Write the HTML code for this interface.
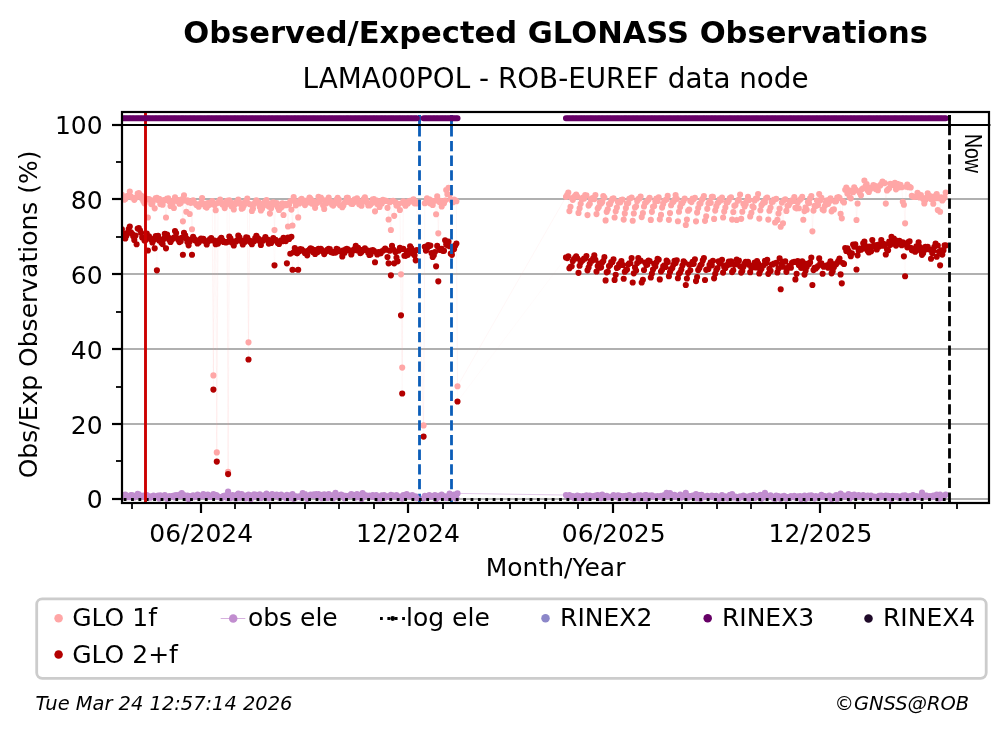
<!DOCTYPE html>
<html lang="en"><head><meta charset="utf-8"><title>Observed/Expected GLONASS Observations</title>
<style>html,body{margin:0;padding:0;background:#fff}svg{display:block;will-change:transform}text{font-family:"DejaVu Sans","Liberation Sans",sans-serif;fill:#000}</style></head><body>
<svg width="1008" height="734" viewBox="0 0 1008 734">
<rect width="1008" height="734" fill="#fff"/>
<text x="555.6" y="42.6" font-size="30.56" font-weight="bold" text-anchor="middle">Observed/Expected GLONASS Observations</text>
<text x="555.6" y="87.6" font-size="27.8" text-anchor="middle">LAMA00POL - ROB-EUREF data node</text>
<clipPath id="c"><rect x="122" y="112" width="867" height="391"/></clipPath>
<g clip-path="url(#c)">
<line x1="122" x2="989" y1="499" y2="499" stroke="#b0b0b0" stroke-width="2.2"/>
<line x1="122" x2="989" y1="424" y2="424" stroke="#b0b0b0" stroke-width="2.2"/>
<line x1="122" x2="989" y1="349" y2="349" stroke="#b0b0b0" stroke-width="2.2"/>
<line x1="122" x2="989" y1="274" y2="274" stroke="#b0b0b0" stroke-width="2.2"/>
<line x1="122" x2="989" y1="199" y2="199" stroke="#b0b0b0" stroke-width="2.2"/>
<line x1="122" x2="989" y1="125" y2="125" stroke="#b0b0b0" stroke-width="2.2"/>
<polyline points="121.9,194.7 123,196.7 124.2,199.7 125.3,199.1 126.4,197.1 127.5,195.9 128.7,196.5 129.8,191.6 130.9,196.6 132.1,197.6 133.2,198.1 134.3,199.8 135.5,198.1 136.6,197.3 137.7,193.6 138.8,193.1 140,194.8 141.1,195.6 142.2,199.1 143.4,201.2 144.5,203.3 145.6,200 146.8,198.8 147.9,217.5 149,199 150.1,199.9 151.3,204.1 152.4,203 153.5,200.3 154.7,208.3 155.8,198 156.9,197.7 158.1,200.1 159.2,198.8 160.3,204.1 161.4,202 162.6,204.7 163.7,200.1 164.8,200.3 166,217.5 167.1,198.5 168.2,198.4 169.4,201.5 170.5,205.9 171.6,201 172.7,203.1 173.9,208 175,197.4 176.1,200.6 177.3,199.8 178.4,201.8 179.5,203.7 180.7,203.1 181.8,199.2 182.9,221.3 184,195.2 185.2,200.6 186.3,211.7 187.4,200.4 188.6,202.2 189.7,214 190.8,202.8 192,229.2 193.1,200.3 194.2,202.6 195.3,203.5 196.5,205.1 197.6,205.4 198.7,206.7 199.9,204.3 201,202.8 202.1,198.1 203.3,203.9 204.4,203.7 205.5,206.7 206.7,207.6 207.8,203 208.9,205 210,202.7 211.2,204.1 212.3,201.1 213.4,375.4 214.6,205 215.7,210.2 216.8,452.4 218,202.8 219.1,201 220.2,199.6 221.3,202.2 222.5,204.5 223.6,205.1 224.7,208.1 225.9,204.8 227,200.7 228.1,471.9 229.3,200.4 230.4,202.1 231.5,206.3 232.6,205.3 233.8,209.4 234.9,204.5 236,202.3 237.2,202.4 238.3,199.5 239.4,203.6 240.6,203 241.7,208.7 242.8,208.1 243.9,205.6 245.1,202.3 246.2,200.9 247.3,198.6 248.5,342.3 249.6,204.1 250.7,204.3 251.9,211 253,208.6 254.1,203.9 255.2,202.4 256.4,200.4 257.5,202.5 258.6,202.3 259.8,207 260.9,210.5 262,208.7 263.2,205.9 264.3,202.6 265.4,201.3 266.5,200 267.7,203.6 268.8,206.4 269.9,213.6 271.1,208.3 272.2,202.9 273.3,202.4 274.5,230.1 275.6,204.4 276.7,203.1 277.8,207.3 279,210 280.1,207.7 281.2,207.4 282.4,203.2 283.5,215 284.6,205.3 285.8,203.9 286.9,205.1 288,226.5 289.1,204.4 290.3,201.3 291.4,209.6 292.5,225.5 293.7,197.1 294.8,201.2 295.9,205.3 297.1,202.2 298.2,217.4 299.3,203.5 300.4,199.8 301.6,198.7 302.7,202 303.8,200.5 305,205.1 306.1,200.9 307.2,202.6 308.4,201 309.5,197.5 310.6,198.8 311.7,203.6 312.9,201.5 314,201.5 315.1,207.8 316.3,203.2 317.4,202.7 318.5,196.8 319.7,200.7 320.8,197.5 321.9,199 323.1,205.2 324.2,209 325.3,203.8 326.4,203.2 327.6,199.6 328.7,197.6 329.8,200.9 331,201.9 332.1,204.8 333.2,205.6 334.4,203.7 335.5,202.2 336.6,199.6 337.7,197.9 338.9,199.6 340,205.2 341.1,205.3 342.3,207.2 343.4,205.5 344.5,202.7 345.7,201.6 346.8,197.8 347.9,197.8 349,202.1 350.2,200.9 351.3,203.7 352.4,204 353.6,202.5 354.7,199.3 355.8,199 357,198.2 358.1,201.9 359.2,204.3 360.3,203.7 361.5,205.7 362.6,201.4 363.7,199 364.9,197.2 366,200 367.1,202.4 368.3,205.5 369.4,205.4 370.5,204.4 371.6,203.2 372.8,199.4 373.9,199 375,211.3 376.2,200.2 377.3,204 378.4,204.1 379.6,206.9 380.7,201 381.8,203.4 382.9,199.7 384.1,200.3 385.2,200.8 386.3,200.9 387.5,207.8 388.6,219.5 389.7,202.2 390.9,230 392,201 393.1,200.7 394.2,215.8 395.4,202.4 396.5,205.6 397.6,204 398.8,203.9 399.9,210 401,274.3 402.2,367.6 403.3,201.2 404.4,203.8 405.5,205.7 406.7,202.3 407.8,203.4 408.9,201 410.1,200.7 411.2,201.3 412.3,201 413.5,199.4 414.6,203.3 415.7,201.6 416.8,203.4 423.6,425.4 424.8,203.2 425.9,202.4 427,198.2 428.2,200.2 429.3,199.2 430.4,203.5 431.5,200.6 432.7,204.9 433.8,201.1 434.9,200.8 436.1,214.2 437.2,196.2 438.3,233.3 439.5,202.1 440.6,200.9 441.7,206.4 442.8,203.7 444,203.2 445.1,200.6 446.2,190.1 447.4,194.2 448.5,187.8 449.6,194.8 450.8,199.6 451.9,200.7 453,202.2 454.1,199.5 455.3,200.3 456.4,201.2 457.5,386.2 566,196.8 567.2,194.7 568.3,192.5 569.4,211.1 570.5,206.8 571.7,198.1 572.8,199.8 573.9,197 575.1,195.9 576.2,194.5 577.3,196.5 578.5,212.9 579.6,208.3 580.7,203.7 581.8,199.2 583,197.6 584.1,198.6 585.2,195.1 586.4,195.3 587.5,215.1 588.6,205.6 589.8,203.8 590.9,199.3 592,198.2 593.1,197.8 594.3,199.1 595.4,195.1 596.5,214.1 597.7,208.6 598.8,207 599.9,202.2 601.1,203.6 602.2,201.9 603.3,196.1 604.4,197.5 605.6,220.4 606.7,211.8 607.8,209.2 609,204 610.1,204 611.2,200.9 612.4,198.8 613.5,198.4 614.6,217.5 615.7,211.3 616.9,207.6 618,202.1 619.1,202.1 620.3,202.3 621.4,199.7 622.5,199.6 623.7,219.6 624.8,213.4 625.9,208.1 627,203.7 628.2,203 629.3,198.8 630.4,198.2 631.6,197.5 632.7,220.7 633.8,213.5 635,207.4 636.1,206.3 637.2,201.1 638.3,199.1 639.5,198.4 640.6,196.5 641.7,217.1 642.9,213.1 644,206.5 645.1,203 646.3,202 647.4,200.8 648.5,199.6 649.6,197.8 650.8,219.9 651.9,211.8 653,206.7 654.2,206.1 655.3,201.3 656.4,198.5 657.6,201 658.7,197.4 659.8,219.3 661,214.9 662.1,207.6 663.2,203.9 664.3,201 665.5,200.1 666.6,199.3 667.7,195.9 668.9,219.8 670,213.1 671.1,205.2 672.3,202.6 673.4,201.7 674.5,199.9 675.6,195.1 676.8,198.8 677.9,221.2 679,211.7 680.2,206.9 681.3,203.3 682.4,203.1 683.6,200.7 684.7,198.5 685.8,225 686.9,219.6 688.1,210.7 689.2,209.6 690.3,201.1 691.5,202.1 692.6,198.6 693.7,199.1 694.9,197.7 696,221.3 697.1,212.6 698.2,208.1 699.4,203.7 700.5,203.4 701.6,200.1 702.8,198.6 703.9,196.1 705,220.8 706.2,216.3 707.3,208.8 708.4,203.6 709.5,201.3 710.7,202.8 711.8,196.9 712.9,196.7 714.1,218.9 715.2,210.6 716.3,206.4 717.5,203.3 718.6,202.2 719.7,199.4 720.8,200.3 722,197.6 723.1,217.5 724.2,211.6 725.4,207.6 726.5,202.6 727.6,202.2 728.8,200.3 729.9,198.1 731,197.3 732.1,219.6 733.3,212 734.4,205.8 735.5,205 736.7,220 737.8,200.7 738.9,199.6 740.1,194.6 741.2,218.8 742.3,211.7 743.4,203.8 744.6,206.4 745.7,204.3 746.8,200.8 748,196.7 749.1,200 750.2,216.4 751.4,212.8 752.5,206.3 753.6,207.4 754.7,200.4 755.9,198.6 757,198.4 758.1,194.1 759.3,218.6 760.4,210.2 761.5,205.3 762.7,203.6 763.8,201.5 764.9,202.3 766.1,198.2 767.2,197.6 768.3,219.6 769.4,210.7 770.6,207.5 771.7,202.1 772.8,201.7 774,199.5 775.1,222.5 776.2,198.8 777.4,219.9 778.5,213.5 779.6,208.5 780.7,226.7 781.9,202.6 783,223.3 784.1,200.1 785.3,199.3 786.4,210.9 787.5,205.8 788.7,205.3 789.8,203.2 790.9,201.4 792,200.4 793.2,201 794.3,197.1 795.4,207.8 796.6,208.3 797.7,202.5 798.8,208.2 800,199.8 801.1,198.5 802.2,196.9 803.3,219.7 804.5,211.1 805.6,207.4 806.7,209.7 807.9,202.1 809,202.9 810.1,198.3 811.3,196 812.4,231.3 813.5,210.6 814.6,205.8 815.8,206.1 816.9,200.5 818,205.1 819.2,194.1 820.3,200.3 821.4,197.8 822.6,209.6 823.7,210.3 824.8,206 825.9,202.6 827.1,200.3 828.2,203.8 829.3,201.6 830.5,198.3 831.6,211.3 832.7,209.7 833.9,209.4 835,201.5 836.1,201.3 837.2,197.6 838.4,197.1 839.5,197.8 840.6,213.8 841.8,218.3 842.9,201.2 844,202.5 845.2,189.8 846.3,187.5 847.4,193.6 848.5,190.1 849.7,197.2 850.8,198.3 851.9,190.8 853.1,192.2 854.2,187.2 855.3,189.4 856.5,220 857.6,203.5 858.7,191.3 859.8,193 861,195.3 862.1,189.1 863.2,188.3 864.4,180.5 865.5,186.2 866.6,184 867.8,190.4 868.9,192 870,189.6 871.1,187.6 872.3,187.6 873.4,185 874.5,185.5 875.7,189.1 876.8,187.6 877.9,190.2 879.1,186.1 880.2,185.4 881.3,183.7 882.5,181.6 883.6,183.1 884.7,183.1 885.8,203.6 887,190.5 888.1,189.2 889.2,188.2 890.4,183.7 891.5,184.3 892.6,184.8 893.8,184.4 894.9,182.7 896,189.3 897.1,183.8 898.3,187.4 899.4,184.5 900.5,184.9 901.7,187.2 902.8,201.7 903.9,204.7 905.1,223.3 906.2,186.7 907.3,184.6 908.4,187.2 909.6,186.9 910.7,187.5 911.8,195.7 913,196.6 914.1,197 915.2,196.7 916.4,196.7 917.5,192.7 918.6,194.2 919.7,197.5 920.9,195.1 922,197.7 923.1,199.1 924.3,203.5 925.4,199.9 926.5,197.5 927.7,193.2 928.8,195.1 929.9,196 931,198.9 932.2,198.5 933.3,203.7 934.4,196.3 935.6,198.2 936.7,194.1 937.8,210 939,198.2 940.1,211.7 941.2,197.3 942.3,200.5 943.5,198.8 944.6,197.3 945.7,192.6" fill="none" stroke="#ffa6a6" stroke-width="0.3" opacity="0.32"/>
<polyline points="121.9,229.4 123,233.5 124.2,236.4 125.3,238.5 126.4,235.8 127.5,232.9 128.7,229 129.8,226.5 130.9,232.4 132.1,233.7 133.2,236.2 134.3,239.9 135.5,235.6 136.6,244.2 137.7,228.5 138.8,228.1 140,230.2 141.1,232.8 142.2,237.4 143.4,237.5 144.5,240.5 145.6,239.9 146.8,233.5 147.9,250.5 149,236.2 150.1,238.1 151.3,239.7 152.4,242.4 153.5,240.3 154.7,248.3 155.8,236 156.9,270.3 158.1,235.9 159.2,240.6 160.3,240.5 161.4,242.8 162.6,244.1 163.7,238.9 164.8,233.9 166,248.3 167.1,234.6 168.2,237.2 169.4,240.1 170.5,241.9 171.6,240.1 172.7,238.8 173.9,237.5 175,231 176.1,233.1 177.3,238.2 178.4,239.9 179.5,242.1 180.7,241.3 181.8,237.9 182.9,254.7 184,232.9 185.2,235.3 186.3,238.4 187.4,242.1 188.6,245.3 189.7,241.5 190.8,239.6 192,254.7 193.1,236.8 194.2,238.7 195.3,240.6 196.5,241.6 197.6,243.4 198.7,242.6 199.9,239.6 201,238.6 202.1,240.3 203.3,238.7 204.4,240.3 205.5,241.5 206.7,244.4 207.8,241.8 208.9,240.7 210,239.1 211.2,238 212.3,240.3 213.4,389.6 214.6,240.5 215.7,244.2 216.8,461.6 218,243.6 219.1,240.6 220.2,239.1 221.3,237.7 222.5,240.4 223.6,242 224.7,242.1 225.9,242.5 227,241.9 228.1,474.1 229.3,236.6 230.4,238.3 231.5,242.3 232.6,243.3 233.8,245.4 234.9,241.3 236,241.6 237.2,240.3 238.3,235.6 239.4,237.3 240.6,240.8 241.7,240.6 242.8,244.5 243.9,241.7 245.1,241.7 246.2,237.3 247.3,237.6 248.5,359.5 249.6,240.5 250.7,242.5 251.9,244.2 253,241.3 254.1,241.3 255.2,238.1 256.4,235.9 257.5,237.8 258.6,238.8 259.8,241.2 260.9,245 262,241 263.2,240.6 264.3,239 265.4,237.1 266.5,239 267.7,239.5 268.8,243.6 269.9,242.6 271.1,242.9 272.2,239.7 273.3,238.1 274.5,265.3 275.6,239.7 276.7,241.2 277.8,243.1 279,243.9 280.1,241.8 281.2,240.2 282.4,241.2 283.5,237.7 284.6,240 285.8,241.1 286.9,263.3 288,237.5 289.1,239 290.3,253.7 291.4,236.7 292.5,269.7 293.7,252.2 294.8,248.1 295.9,251.3 297.1,253.3 298.2,269.7 299.3,251.2 300.4,249 301.6,249.3 302.7,250.5 303.8,251 305,253.2 306.1,251.7 307.2,255.3 308.4,250.5 309.5,249.5 310.6,248.4 311.7,248.8 312.9,251.9 314,249.9 315.1,254 316.3,251.9 317.4,252.3 318.5,248.8 319.7,250.7 320.8,248.8 321.9,250.1 323.1,251.8 324.2,254.1 325.3,251.5 326.4,251.2 327.6,249.6 328.7,248.8 329.8,249.1 331,252.1 332.1,252.1 333.2,252.9 334.4,251.9 335.5,252.6 336.6,248.7 337.7,249.3 338.9,251.2 340,251 341.1,251.2 342.3,256.4 343.4,250.2 344.5,252.8 345.7,249.4 346.8,248.8 347.9,249.2 349,250.3 350.2,250.9 351.3,254.5 352.4,251.2 353.6,249.8 354.7,248.9 355.8,245.9 357,250.3 358.1,247.9 359.2,251 360.3,253.1 361.5,251.9 362.6,249.7 363.7,250 364.9,248.4 366,250 367.1,250.2 368.3,252.9 369.4,254.9 370.5,254.6 371.6,250.4 372.8,250.1 373.9,250.8 375,262.2 376.2,252.2 377.3,254.4 378.4,252 379.6,252.2 380.7,253.3 381.8,251.4 382.9,250.8 384.1,249.7 385.2,248.6 386.3,249.7 387.5,257.1 388.6,263.3 389.7,250.7 390.9,275.3 392,245.9 393.1,249.2 394.2,263.3 395.4,252.1 396.5,257.6 397.6,261.3 398.8,250.6 399.9,247.7 401,315.3 402.2,393.5 403.3,248.9 404.4,255.7 405.5,255.8 406.7,252.3 407.8,254.8 408.9,250.5 410.1,246.2 411.2,248 412.3,251.9 413.5,254.1 414.6,255.2 415.7,260.3 416.8,250 423.6,436.6 424.8,246.8 425.9,250.6 427,248.2 428.2,245.1 429.3,246.1 430.4,245.5 431.5,253.1 432.7,256.9 433.8,255.3 434.9,252.1 436.1,266.3 437.2,245.9 438.3,281.3 439.5,249.8 440.6,249.8 441.7,248.7 442.8,250.8 444,250.8 445.1,240.3 446.2,244.2 447.4,245.3 448.5,241.6 449.6,246.2 450.8,253.6 451.9,254.8 453,249.8 454.1,249 455.3,245.4 456.4,243.6 457.5,401.5 566,257.4 567.2,258.1 568.3,256.3 569.4,268.2 570.5,266.7 571.7,266.3 572.8,261.1 573.9,259.2 575.1,257.9 576.2,256.4 577.3,258.4 578.5,272.8 579.6,265.7 580.7,262.5 581.8,260.9 583,259.9 584.1,258.5 585.2,258.4 586.4,256 587.5,270.3 588.6,267.5 589.8,263.7 590.9,260.9 592,260.8 593.1,258.5 594.3,255.4 595.4,259.7 596.5,271.5 597.7,266.1 598.8,263.8 599.9,267.7 601.1,267.2 602.2,262.4 603.3,261 604.4,257 605.6,280.4 606.7,272.3 607.8,271.5 609,266.1 610.1,265 611.2,262.1 612.4,262 613.5,259.2 614.6,279.9 615.7,274.7 616.9,267.9 618,267.3 619.1,264.2 620.3,263 621.4,261.1 622.5,264.9 623.7,278.7 624.8,271.7 625.9,270.4 627,269.5 628.2,264.6 629.3,263.3 630.4,263 631.6,258.1 632.7,282.5 633.8,273.3 635,267.4 636.1,270.5 637.2,263.1 638.3,258.1 639.5,261.3 640.6,260.5 641.7,282.5 642.9,279.8 644,270 645.1,262.6 646.3,265.1 647.4,264.6 648.5,260.6 649.6,261.1 650.8,277.5 651.9,273.6 653,269.6 654.2,263.9 655.3,266.4 656.4,262.3 657.6,258.8 658.7,259.5 659.8,279.4 661,271.5 662.1,269.8 663.2,266.4 664.3,265.3 665.5,267 666.6,260.6 667.7,261.9 668.9,276.2 670,272 671.1,269.2 672.3,267.9 673.4,264.8 674.5,260.9 675.6,263.1 676.8,260.3 677.9,278.2 679,273.8 680.2,272.2 681.3,269.5 682.4,265.6 683.6,261.4 684.7,262.6 685.8,285 686.9,278.5 688.1,272.8 689.2,264.6 690.3,270.3 691.5,263.8 692.6,261.7 693.7,263.8 694.9,259.3 696,281.1 697.1,277 698.2,270.1 699.4,267.9 700.5,265.3 701.6,264.2 702.8,260.4 703.9,258 705,280 706.2,269.8 707.3,269.3 708.4,269.1 709.5,264.7 710.7,262.4 711.8,265.3 712.9,260.8 714.1,278.3 715.2,273.7 716.3,270 717.5,268.1 718.6,261.4 719.7,263.3 720.8,263.5 722,259.8 723.1,272.6 724.2,267.1 725.4,268 726.5,265 727.6,264.9 728.8,261.6 729.9,264.3 731,261.2 732.1,272.1 733.3,270.3 734.4,264.5 735.5,264.3 736.7,259.5 737.8,260.5 738.9,260.5 740.1,266.3 741.2,272.6 742.3,270.9 743.4,266.8 744.6,263.6 745.7,261.7 746.8,262.5 748,261.8 749.1,264.7 750.2,272.2 751.4,268 752.5,265.7 753.6,265.7 754.7,262.5 755.9,267.4 757,261.1 758.1,263.4 759.3,273.5 760.4,270.5 761.5,268.4 762.7,266.1 763.8,265.1 764.9,260.7 766.1,263 767.2,259.7 768.3,273.8 769.4,268.7 770.6,270.9 771.7,264.5 772.8,264.4 774,263.6 775.1,263.4 776.2,262.7 777.4,272.4 778.5,268.4 779.6,258.3 780.7,289.2 781.9,263.7 783,266.7 784.1,261.6 785.3,261.4 786.4,271.8 787.5,268.3 788.7,267 789.8,265.9 790.9,267.7 792,262.8 793.2,262 794.3,261.9 795.4,279.4 796.6,273.8 797.7,261 798.8,264.9 800,264.5 801.1,267.8 802.2,261.2 803.3,262.9 804.5,274.6 805.6,270.8 806.7,267 807.9,263.5 809,263.9 810.1,262.4 811.3,257.5 812.4,285 813.5,270.1 814.6,267.8 815.8,268.6 816.9,267.2 818,266.1 819.2,258.4 820.3,263.6 821.4,263.3 822.6,273.7 823.7,266.7 824.8,266.5 825.9,265.9 827.1,265.4 828.2,267.7 829.3,263.7 830.5,261.4 831.6,273.3 832.7,271.2 833.9,267.3 835,264 836.1,264.2 837.2,262.7 838.4,260.7 839.5,258.6 840.6,274.4 841.8,283.3 842.9,263 844,263.9 845.2,248 846.3,250.9 847.4,248.3 848.5,250.7 849.7,253.4 850.8,256.2 851.9,253.4 853.1,244.5 854.2,246.7 855.3,244.4 856.5,269.5 857.6,255.3 858.7,250.6 859.8,248.5 861,249.7 862.1,248.7 863.2,243.3 864.4,241.6 865.5,248.6 866.6,246.3 867.8,250.9 868.9,252.5 870,246.6 871.1,251.3 872.3,240.1 873.4,245.9 874.5,245 875.7,245.7 876.8,249.4 877.9,244.7 879.1,246.5 880.2,244.3 881.3,240.1 882.5,245.7 883.6,243.7 884.7,244.7 885.8,254.5 887,249.2 888.1,250.3 889.2,241.5 890.4,244.8 891.5,236.7 892.6,240.7 893.8,238.6 894.9,241.5 896,245.6 897.1,240.9 898.3,241.6 899.4,240.9 900.5,242.6 901.7,245.2 902.8,242.2 903.9,256.3 905.1,276.2 906.2,244 907.3,247.3 908.4,242 909.6,241.3 910.7,247.7 911.8,249.9 913,250.4 914.1,250.7 915.2,251.7 916.4,246.4 917.5,247.1 918.6,242.3 919.7,246.9 920.9,250.9 922,254.8 923.1,253.3 924.3,250.2 925.4,246.8 926.5,248.4 927.7,246.8 928.8,249.2 929.9,249.6 931,258.7 932.2,253.1 933.3,251 934.4,246.7 935.6,243.6 936.7,256.7 937.8,245.5 939,251.7 940.1,265.3 941.2,250.4 942.3,254.6 943.5,250.3 944.6,245.3 945.7,245.4" fill="none" stroke="#ffa6a6" stroke-width="0.3" opacity="0.15"/>
<path d="M121.9 194.7h0M123 196.7h0M124.2 199.7h0M125.3 199.1h0M126.4 197.1h0M127.5 195.9h0M128.7 196.5h0M129.8 191.6h0M130.9 196.6h0M132.1 197.6h0M133.2 198.1h0M134.3 199.8h0M135.5 198.1h0M136.6 197.3h0M137.7 193.6h0M138.8 193.1h0M140 194.8h0M141.1 195.6h0M142.2 199.1h0M143.4 201.2h0M144.5 203.3h0M145.6 200h0M146.8 198.8h0M147.9 217.5h0M149 199h0M150.1 199.9h0M151.3 204.1h0M152.4 203h0M153.5 200.3h0M154.7 208.3h0M155.8 198h0M156.9 197.7h0M158.1 200.1h0M159.2 198.8h0M160.3 204.1h0M161.4 202h0M162.6 204.7h0M163.7 200.1h0M164.8 200.3h0M166 217.5h0M167.1 198.5h0M168.2 198.4h0M169.4 201.5h0M170.5 205.9h0M171.6 201h0M172.7 203.1h0M173.9 208h0M175 197.4h0M176.1 200.6h0M177.3 199.8h0M178.4 201.8h0M179.5 203.7h0M180.7 203.1h0M181.8 199.2h0M182.9 221.3h0M184 195.2h0M185.2 200.6h0M186.3 211.7h0M187.4 200.4h0M188.6 202.2h0M189.7 214h0M190.8 202.8h0M192 229.2h0M193.1 200.3h0M194.2 202.6h0M195.3 203.5h0M196.5 205.1h0M197.6 205.4h0M198.7 206.7h0M199.9 204.3h0M201 202.8h0M202.1 198.1h0M203.3 203.9h0M204.4 203.7h0M205.5 206.7h0M206.7 207.6h0M207.8 203h0M208.9 205h0M210 202.7h0M211.2 204.1h0M212.3 201.1h0M213.4 375.4h0M214.6 205h0M215.7 210.2h0M216.8 452.4h0M218 202.8h0M219.1 201h0M220.2 199.6h0M221.3 202.2h0M222.5 204.5h0M223.6 205.1h0M224.7 208.1h0M225.9 204.8h0M227 200.7h0M228.1 471.9h0M229.3 200.4h0M230.4 202.1h0M231.5 206.3h0M232.6 205.3h0M233.8 209.4h0M234.9 204.5h0M236 202.3h0M237.2 202.4h0M238.3 199.5h0M239.4 203.6h0M240.6 203h0M241.7 208.7h0M242.8 208.1h0M243.9 205.6h0M245.1 202.3h0M246.2 200.9h0M247.3 198.6h0M248.5 342.3h0M249.6 204.1h0M250.7 204.3h0M251.9 211h0M253 208.6h0M254.1 203.9h0M255.2 202.4h0M256.4 200.4h0M257.5 202.5h0M258.6 202.3h0M259.8 207h0M260.9 210.5h0M262 208.7h0M263.2 205.9h0M264.3 202.6h0M265.4 201.3h0M266.5 200h0M267.7 203.6h0M268.8 206.4h0M269.9 213.6h0M271.1 208.3h0M272.2 202.9h0M273.3 202.4h0M274.5 230.1h0M275.6 204.4h0M276.7 203.1h0M277.8 207.3h0M279 210h0M280.1 207.7h0M281.2 207.4h0M282.4 203.2h0M283.5 215h0M284.6 205.3h0M285.8 203.9h0M286.9 205.1h0M288 226.5h0M289.1 204.4h0M290.3 201.3h0M291.4 209.6h0M292.5 225.5h0M293.7 197.1h0M294.8 201.2h0M295.9 205.3h0M297.1 202.2h0M298.2 217.4h0M299.3 203.5h0M300.4 199.8h0M301.6 198.7h0M302.7 202h0M303.8 200.5h0M305 205.1h0M306.1 200.9h0M307.2 202.6h0M308.4 201h0M309.5 197.5h0M310.6 198.8h0M311.7 203.6h0M312.9 201.5h0M314 201.5h0M315.1 207.8h0M316.3 203.2h0M317.4 202.7h0M318.5 196.8h0M319.7 200.7h0M320.8 197.5h0M321.9 199h0M323.1 205.2h0M324.2 209h0M325.3 203.8h0M326.4 203.2h0M327.6 199.6h0M328.7 197.6h0M329.8 200.9h0M331 201.9h0M332.1 204.8h0M333.2 205.6h0M334.4 203.7h0M335.5 202.2h0M336.6 199.6h0M337.7 197.9h0M338.9 199.6h0M340 205.2h0M341.1 205.3h0M342.3 207.2h0M343.4 205.5h0M344.5 202.7h0M345.7 201.6h0M346.8 197.8h0M347.9 197.8h0M349 202.1h0M350.2 200.9h0M351.3 203.7h0M352.4 204h0M353.6 202.5h0M354.7 199.3h0M355.8 199h0M357 198.2h0M358.1 201.9h0M359.2 204.3h0M360.3 203.7h0M361.5 205.7h0M362.6 201.4h0M363.7 199h0M364.9 197.2h0M366 200h0M367.1 202.4h0M368.3 205.5h0M369.4 205.4h0M370.5 204.4h0M371.6 203.2h0M372.8 199.4h0M373.9 199h0M375 211.3h0M376.2 200.2h0M377.3 204h0M378.4 204.1h0M379.6 206.9h0M380.7 201h0M381.8 203.4h0M382.9 199.7h0M384.1 200.3h0M385.2 200.8h0M386.3 200.9h0M387.5 207.8h0M388.6 219.5h0M389.7 202.2h0M390.9 230h0M392 201h0M393.1 200.7h0M394.2 215.8h0M395.4 202.4h0M396.5 205.6h0M397.6 204h0M398.8 203.9h0M399.9 210h0M401 274.3h0M402.2 367.6h0M403.3 201.2h0M404.4 203.8h0M405.5 205.7h0M406.7 202.3h0M407.8 203.4h0M408.9 201h0M410.1 200.7h0M411.2 201.3h0M412.3 201h0M413.5 199.4h0M414.6 203.3h0M415.7 201.6h0M416.8 203.4h0M423.6 425.4h0M424.8 203.2h0M425.9 202.4h0M427 198.2h0M428.2 200.2h0M429.3 199.2h0M430.4 203.5h0M431.5 200.6h0M432.7 204.9h0M433.8 201.1h0M434.9 200.8h0M436.1 214.2h0M437.2 196.2h0M438.3 233.3h0M439.5 202.1h0M440.6 200.9h0M441.7 206.4h0M442.8 203.7h0M444 203.2h0M445.1 200.6h0M446.2 190.1h0M447.4 194.2h0M448.5 187.8h0M449.6 194.8h0M450.8 199.6h0M451.9 200.7h0M453 202.2h0M454.1 199.5h0M455.3 200.3h0M456.4 201.2h0M457.5 386.2h0M566 196.8h0M567.2 194.7h0M568.3 192.5h0M569.4 211.1h0M570.5 206.8h0M571.7 198.1h0M572.8 199.8h0M573.9 197h0M575.1 195.9h0M576.2 194.5h0M577.3 196.5h0M578.5 212.9h0M579.6 208.3h0M580.7 203.7h0M581.8 199.2h0M583 197.6h0M584.1 198.6h0M585.2 195.1h0M586.4 195.3h0M587.5 215.1h0M588.6 205.6h0M589.8 203.8h0M590.9 199.3h0M592 198.2h0M593.1 197.8h0M594.3 199.1h0M595.4 195.1h0M596.5 214.1h0M597.7 208.6h0M598.8 207h0M599.9 202.2h0M601.1 203.6h0M602.2 201.9h0M603.3 196.1h0M604.4 197.5h0M605.6 220.4h0M606.7 211.8h0M607.8 209.2h0M609 204h0M610.1 204h0M611.2 200.9h0M612.4 198.8h0M613.5 198.4h0M614.6 217.5h0M615.7 211.3h0M616.9 207.6h0M618 202.1h0M619.1 202.1h0M620.3 202.3h0M621.4 199.7h0M622.5 199.6h0M623.7 219.6h0M624.8 213.4h0M625.9 208.1h0M627 203.7h0M628.2 203h0M629.3 198.8h0M630.4 198.2h0M631.6 197.5h0M632.7 220.7h0M633.8 213.5h0M635 207.4h0M636.1 206.3h0M637.2 201.1h0M638.3 199.1h0M639.5 198.4h0M640.6 196.5h0M641.7 217.1h0M642.9 213.1h0M644 206.5h0M645.1 203h0M646.3 202h0M647.4 200.8h0M648.5 199.6h0M649.6 197.8h0M650.8 219.9h0M651.9 211.8h0M653 206.7h0M654.2 206.1h0M655.3 201.3h0M656.4 198.5h0M657.6 201h0M658.7 197.4h0M659.8 219.3h0M661 214.9h0M662.1 207.6h0M663.2 203.9h0M664.3 201h0M665.5 200.1h0M666.6 199.3h0M667.7 195.9h0M668.9 219.8h0M670 213.1h0M671.1 205.2h0M672.3 202.6h0M673.4 201.7h0M674.5 199.9h0M675.6 195.1h0M676.8 198.8h0M677.9 221.2h0M679 211.7h0M680.2 206.9h0M681.3 203.3h0M682.4 203.1h0M683.6 200.7h0M684.7 198.5h0M685.8 225h0M686.9 219.6h0M688.1 210.7h0M689.2 209.6h0M690.3 201.1h0M691.5 202.1h0M692.6 198.6h0M693.7 199.1h0M694.9 197.7h0M696 221.3h0M697.1 212.6h0M698.2 208.1h0M699.4 203.7h0M700.5 203.4h0M701.6 200.1h0M702.8 198.6h0M703.9 196.1h0M705 220.8h0M706.2 216.3h0M707.3 208.8h0M708.4 203.6h0M709.5 201.3h0M710.7 202.8h0M711.8 196.9h0M712.9 196.7h0M714.1 218.9h0M715.2 210.6h0M716.3 206.4h0M717.5 203.3h0M718.6 202.2h0M719.7 199.4h0M720.8 200.3h0M722 197.6h0M723.1 217.5h0M724.2 211.6h0M725.4 207.6h0M726.5 202.6h0M727.6 202.2h0M728.8 200.3h0M729.9 198.1h0M731 197.3h0M732.1 219.6h0M733.3 212h0M734.4 205.8h0M735.5 205h0M736.7 220h0M737.8 200.7h0M738.9 199.6h0M740.1 194.6h0M741.2 218.8h0M742.3 211.7h0M743.4 203.8h0M744.6 206.4h0M745.7 204.3h0M746.8 200.8h0M748 196.7h0M749.1 200h0M750.2 216.4h0M751.4 212.8h0M752.5 206.3h0M753.6 207.4h0M754.7 200.4h0M755.9 198.6h0M757 198.4h0M758.1 194.1h0M759.3 218.6h0M760.4 210.2h0M761.5 205.3h0M762.7 203.6h0M763.8 201.5h0M764.9 202.3h0M766.1 198.2h0M767.2 197.6h0M768.3 219.6h0M769.4 210.7h0M770.6 207.5h0M771.7 202.1h0M772.8 201.7h0M774 199.5h0M775.1 222.5h0M776.2 198.8h0M777.4 219.9h0M778.5 213.5h0M779.6 208.5h0M780.7 226.7h0M781.9 202.6h0M783 223.3h0M784.1 200.1h0M785.3 199.3h0M786.4 210.9h0M787.5 205.8h0M788.7 205.3h0M789.8 203.2h0M790.9 201.4h0M792 200.4h0M793.2 201h0M794.3 197.1h0M795.4 207.8h0M796.6 208.3h0M797.7 202.5h0M798.8 208.2h0M800 199.8h0M801.1 198.5h0M802.2 196.9h0M803.3 219.7h0M804.5 211.1h0M805.6 207.4h0M806.7 209.7h0M807.9 202.1h0M809 202.9h0M810.1 198.3h0M811.3 196h0M812.4 231.3h0M813.5 210.6h0M814.6 205.8h0M815.8 206.1h0M816.9 200.5h0M818 205.1h0M819.2 194.1h0M820.3 200.3h0M821.4 197.8h0M822.6 209.6h0M823.7 210.3h0M824.8 206h0M825.9 202.6h0M827.1 200.3h0M828.2 203.8h0M829.3 201.6h0M830.5 198.3h0M831.6 211.3h0M832.7 209.7h0M833.9 209.4h0M835 201.5h0M836.1 201.3h0M837.2 197.6h0M838.4 197.1h0M839.5 197.8h0M840.6 213.8h0M841.8 218.3h0M842.9 201.2h0M844 202.5h0M845.2 189.8h0M846.3 187.5h0M847.4 193.6h0M848.5 190.1h0M849.7 197.2h0M850.8 198.3h0M851.9 190.8h0M853.1 192.2h0M854.2 187.2h0M855.3 189.4h0M856.5 220h0M857.6 203.5h0M858.7 191.3h0M859.8 193h0M861 195.3h0M862.1 189.1h0M863.2 188.3h0M864.4 180.5h0M865.5 186.2h0M866.6 184h0M867.8 190.4h0M868.9 192h0M870 189.6h0M871.1 187.6h0M872.3 187.6h0M873.4 185h0M874.5 185.5h0M875.7 189.1h0M876.8 187.6h0M877.9 190.2h0M879.1 186.1h0M880.2 185.4h0M881.3 183.7h0M882.5 181.6h0M883.6 183.1h0M884.7 183.1h0M885.8 203.6h0M887 190.5h0M888.1 189.2h0M889.2 188.2h0M890.4 183.7h0M891.5 184.3h0M892.6 184.8h0M893.8 184.4h0M894.9 182.7h0M896 189.3h0M897.1 183.8h0M898.3 187.4h0M899.4 184.5h0M900.5 184.9h0M901.7 187.2h0M902.8 201.7h0M903.9 204.7h0M905.1 223.3h0M906.2 186.7h0M907.3 184.6h0M908.4 187.2h0M909.6 186.9h0M910.7 187.5h0M911.8 195.7h0M913 196.6h0M914.1 197h0M915.2 196.7h0M916.4 196.7h0M917.5 192.7h0M918.6 194.2h0M919.7 197.5h0M920.9 195.1h0M922 197.7h0M923.1 199.1h0M924.3 203.5h0M925.4 199.9h0M926.5 197.5h0M927.7 193.2h0M928.8 195.1h0M929.9 196h0M931 198.9h0M932.2 198.5h0M933.3 203.7h0M934.4 196.3h0M935.6 198.2h0M936.7 194.1h0M937.8 210h0M939 198.2h0M940.1 211.7h0M941.2 197.3h0M942.3 200.5h0M943.5 198.8h0M944.6 197.3h0M945.7 192.6h0" stroke="#ffa6a6" stroke-width="6.15" stroke-linecap="round" fill="none"/>
<path d="M121.9 229.4h0M123 233.5h0M124.2 236.4h0M125.3 238.5h0M126.4 235.8h0M127.5 232.9h0M128.7 229h0M129.8 226.5h0M130.9 232.4h0M132.1 233.7h0M133.2 236.2h0M134.3 239.9h0M135.5 235.6h0M136.6 244.2h0M137.7 228.5h0M138.8 228.1h0M140 230.2h0M141.1 232.8h0M142.2 237.4h0M143.4 237.5h0M144.5 240.5h0M145.6 239.9h0M146.8 233.5h0M147.9 250.5h0M149 236.2h0M150.1 238.1h0M151.3 239.7h0M152.4 242.4h0M153.5 240.3h0M154.7 248.3h0M155.8 236h0M156.9 270.3h0M158.1 235.9h0M159.2 240.6h0M160.3 240.5h0M161.4 242.8h0M162.6 244.1h0M163.7 238.9h0M164.8 233.9h0M166 248.3h0M167.1 234.6h0M168.2 237.2h0M169.4 240.1h0M170.5 241.9h0M171.6 240.1h0M172.7 238.8h0M173.9 237.5h0M175 231h0M176.1 233.1h0M177.3 238.2h0M178.4 239.9h0M179.5 242.1h0M180.7 241.3h0M181.8 237.9h0M182.9 254.7h0M184 232.9h0M185.2 235.3h0M186.3 238.4h0M187.4 242.1h0M188.6 245.3h0M189.7 241.5h0M190.8 239.6h0M192 254.7h0M193.1 236.8h0M194.2 238.7h0M195.3 240.6h0M196.5 241.6h0M197.6 243.4h0M198.7 242.6h0M199.9 239.6h0M201 238.6h0M202.1 240.3h0M203.3 238.7h0M204.4 240.3h0M205.5 241.5h0M206.7 244.4h0M207.8 241.8h0M208.9 240.7h0M210 239.1h0M211.2 238h0M212.3 240.3h0M213.4 389.6h0M214.6 240.5h0M215.7 244.2h0M216.8 461.6h0M218 243.6h0M219.1 240.6h0M220.2 239.1h0M221.3 237.7h0M222.5 240.4h0M223.6 242h0M224.7 242.1h0M225.9 242.5h0M227 241.9h0M228.1 474.1h0M229.3 236.6h0M230.4 238.3h0M231.5 242.3h0M232.6 243.3h0M233.8 245.4h0M234.9 241.3h0M236 241.6h0M237.2 240.3h0M238.3 235.6h0M239.4 237.3h0M240.6 240.8h0M241.7 240.6h0M242.8 244.5h0M243.9 241.7h0M245.1 241.7h0M246.2 237.3h0M247.3 237.6h0M248.5 359.5h0M249.6 240.5h0M250.7 242.5h0M251.9 244.2h0M253 241.3h0M254.1 241.3h0M255.2 238.1h0M256.4 235.9h0M257.5 237.8h0M258.6 238.8h0M259.8 241.2h0M260.9 245h0M262 241h0M263.2 240.6h0M264.3 239h0M265.4 237.1h0M266.5 239h0M267.7 239.5h0M268.8 243.6h0M269.9 242.6h0M271.1 242.9h0M272.2 239.7h0M273.3 238.1h0M274.5 265.3h0M275.6 239.7h0M276.7 241.2h0M277.8 243.1h0M279 243.9h0M280.1 241.8h0M281.2 240.2h0M282.4 241.2h0M283.5 237.7h0M284.6 240h0M285.8 241.1h0M286.9 263.3h0M288 237.5h0M289.1 239h0M290.3 253.7h0M291.4 236.7h0M292.5 269.7h0M293.7 252.2h0M294.8 248.1h0M295.9 251.3h0M297.1 253.3h0M298.2 269.7h0M299.3 251.2h0M300.4 249h0M301.6 249.3h0M302.7 250.5h0M303.8 251h0M305 253.2h0M306.1 251.7h0M307.2 255.3h0M308.4 250.5h0M309.5 249.5h0M310.6 248.4h0M311.7 248.8h0M312.9 251.9h0M314 249.9h0M315.1 254h0M316.3 251.9h0M317.4 252.3h0M318.5 248.8h0M319.7 250.7h0M320.8 248.8h0M321.9 250.1h0M323.1 251.8h0M324.2 254.1h0M325.3 251.5h0M326.4 251.2h0M327.6 249.6h0M328.7 248.8h0M329.8 249.1h0M331 252.1h0M332.1 252.1h0M333.2 252.9h0M334.4 251.9h0M335.5 252.6h0M336.6 248.7h0M337.7 249.3h0M338.9 251.2h0M340 251h0M341.1 251.2h0M342.3 256.4h0M343.4 250.2h0M344.5 252.8h0M345.7 249.4h0M346.8 248.8h0M347.9 249.2h0M349 250.3h0M350.2 250.9h0M351.3 254.5h0M352.4 251.2h0M353.6 249.8h0M354.7 248.9h0M355.8 245.9h0M357 250.3h0M358.1 247.9h0M359.2 251h0M360.3 253.1h0M361.5 251.9h0M362.6 249.7h0M363.7 250h0M364.9 248.4h0M366 250h0M367.1 250.2h0M368.3 252.9h0M369.4 254.9h0M370.5 254.6h0M371.6 250.4h0M372.8 250.1h0M373.9 250.8h0M375 262.2h0M376.2 252.2h0M377.3 254.4h0M378.4 252h0M379.6 252.2h0M380.7 253.3h0M381.8 251.4h0M382.9 250.8h0M384.1 249.7h0M385.2 248.6h0M386.3 249.7h0M387.5 257.1h0M388.6 263.3h0M389.7 250.7h0M390.9 275.3h0M392 245.9h0M393.1 249.2h0M394.2 263.3h0M395.4 252.1h0M396.5 257.6h0M397.6 261.3h0M398.8 250.6h0M399.9 247.7h0M401 315.3h0M402.2 393.5h0M403.3 248.9h0M404.4 255.7h0M405.5 255.8h0M406.7 252.3h0M407.8 254.8h0M408.9 250.5h0M410.1 246.2h0M411.2 248h0M412.3 251.9h0M413.5 254.1h0M414.6 255.2h0M415.7 260.3h0M416.8 250h0M423.6 436.6h0M424.8 246.8h0M425.9 250.6h0M427 248.2h0M428.2 245.1h0M429.3 246.1h0M430.4 245.5h0M431.5 253.1h0M432.7 256.9h0M433.8 255.3h0M434.9 252.1h0M436.1 266.3h0M437.2 245.9h0M438.3 281.3h0M439.5 249.8h0M440.6 249.8h0M441.7 248.7h0M442.8 250.8h0M444 250.8h0M445.1 240.3h0M446.2 244.2h0M447.4 245.3h0M448.5 241.6h0M449.6 246.2h0M450.8 253.6h0M451.9 254.8h0M453 249.8h0M454.1 249h0M455.3 245.4h0M456.4 243.6h0M457.5 401.5h0M566 257.4h0M567.2 258.1h0M568.3 256.3h0M569.4 268.2h0M570.5 266.7h0M571.7 266.3h0M572.8 261.1h0M573.9 259.2h0M575.1 257.9h0M576.2 256.4h0M577.3 258.4h0M578.5 272.8h0M579.6 265.7h0M580.7 262.5h0M581.8 260.9h0M583 259.9h0M584.1 258.5h0M585.2 258.4h0M586.4 256h0M587.5 270.3h0M588.6 267.5h0M589.8 263.7h0M590.9 260.9h0M592 260.8h0M593.1 258.5h0M594.3 255.4h0M595.4 259.7h0M596.5 271.5h0M597.7 266.1h0M598.8 263.8h0M599.9 267.7h0M601.1 267.2h0M602.2 262.4h0M603.3 261h0M604.4 257h0M605.6 280.4h0M606.7 272.3h0M607.8 271.5h0M609 266.1h0M610.1 265h0M611.2 262.1h0M612.4 262h0M613.5 259.2h0M614.6 279.9h0M615.7 274.7h0M616.9 267.9h0M618 267.3h0M619.1 264.2h0M620.3 263h0M621.4 261.1h0M622.5 264.9h0M623.7 278.7h0M624.8 271.7h0M625.9 270.4h0M627 269.5h0M628.2 264.6h0M629.3 263.3h0M630.4 263h0M631.6 258.1h0M632.7 282.5h0M633.8 273.3h0M635 267.4h0M636.1 270.5h0M637.2 263.1h0M638.3 258.1h0M639.5 261.3h0M640.6 260.5h0M641.7 282.5h0M642.9 279.8h0M644 270h0M645.1 262.6h0M646.3 265.1h0M647.4 264.6h0M648.5 260.6h0M649.6 261.1h0M650.8 277.5h0M651.9 273.6h0M653 269.6h0M654.2 263.9h0M655.3 266.4h0M656.4 262.3h0M657.6 258.8h0M658.7 259.5h0M659.8 279.4h0M661 271.5h0M662.1 269.8h0M663.2 266.4h0M664.3 265.3h0M665.5 267h0M666.6 260.6h0M667.7 261.9h0M668.9 276.2h0M670 272h0M671.1 269.2h0M672.3 267.9h0M673.4 264.8h0M674.5 260.9h0M675.6 263.1h0M676.8 260.3h0M677.9 278.2h0M679 273.8h0M680.2 272.2h0M681.3 269.5h0M682.4 265.6h0M683.6 261.4h0M684.7 262.6h0M685.8 285h0M686.9 278.5h0M688.1 272.8h0M689.2 264.6h0M690.3 270.3h0M691.5 263.8h0M692.6 261.7h0M693.7 263.8h0M694.9 259.3h0M696 281.1h0M697.1 277h0M698.2 270.1h0M699.4 267.9h0M700.5 265.3h0M701.6 264.2h0M702.8 260.4h0M703.9 258h0M705 280h0M706.2 269.8h0M707.3 269.3h0M708.4 269.1h0M709.5 264.7h0M710.7 262.4h0M711.8 265.3h0M712.9 260.8h0M714.1 278.3h0M715.2 273.7h0M716.3 270h0M717.5 268.1h0M718.6 261.4h0M719.7 263.3h0M720.8 263.5h0M722 259.8h0M723.1 272.6h0M724.2 267.1h0M725.4 268h0M726.5 265h0M727.6 264.9h0M728.8 261.6h0M729.9 264.3h0M731 261.2h0M732.1 272.1h0M733.3 270.3h0M734.4 264.5h0M735.5 264.3h0M736.7 259.5h0M737.8 260.5h0M738.9 260.5h0M740.1 266.3h0M741.2 272.6h0M742.3 270.9h0M743.4 266.8h0M744.6 263.6h0M745.7 261.7h0M746.8 262.5h0M748 261.8h0M749.1 264.7h0M750.2 272.2h0M751.4 268h0M752.5 265.7h0M753.6 265.7h0M754.7 262.5h0M755.9 267.4h0M757 261.1h0M758.1 263.4h0M759.3 273.5h0M760.4 270.5h0M761.5 268.4h0M762.7 266.1h0M763.8 265.1h0M764.9 260.7h0M766.1 263h0M767.2 259.7h0M768.3 273.8h0M769.4 268.7h0M770.6 270.9h0M771.7 264.5h0M772.8 264.4h0M774 263.6h0M775.1 263.4h0M776.2 262.7h0M777.4 272.4h0M778.5 268.4h0M779.6 258.3h0M780.7 289.2h0M781.9 263.7h0M783 266.7h0M784.1 261.6h0M785.3 261.4h0M786.4 271.8h0M787.5 268.3h0M788.7 267h0M789.8 265.9h0M790.9 267.7h0M792 262.8h0M793.2 262h0M794.3 261.9h0M795.4 279.4h0M796.6 273.8h0M797.7 261h0M798.8 264.9h0M800 264.5h0M801.1 267.8h0M802.2 261.2h0M803.3 262.9h0M804.5 274.6h0M805.6 270.8h0M806.7 267h0M807.9 263.5h0M809 263.9h0M810.1 262.4h0M811.3 257.5h0M812.4 285h0M813.5 270.1h0M814.6 267.8h0M815.8 268.6h0M816.9 267.2h0M818 266.1h0M819.2 258.4h0M820.3 263.6h0M821.4 263.3h0M822.6 273.7h0M823.7 266.7h0M824.8 266.5h0M825.9 265.9h0M827.1 265.4h0M828.2 267.7h0M829.3 263.7h0M830.5 261.4h0M831.6 273.3h0M832.7 271.2h0M833.9 267.3h0M835 264h0M836.1 264.2h0M837.2 262.7h0M838.4 260.7h0M839.5 258.6h0M840.6 274.4h0M841.8 283.3h0M842.9 263h0M844 263.9h0M845.2 248h0M846.3 250.9h0M847.4 248.3h0M848.5 250.7h0M849.7 253.4h0M850.8 256.2h0M851.9 253.4h0M853.1 244.5h0M854.2 246.7h0M855.3 244.4h0M856.5 269.5h0M857.6 255.3h0M858.7 250.6h0M859.8 248.5h0M861 249.7h0M862.1 248.7h0M863.2 243.3h0M864.4 241.6h0M865.5 248.6h0M866.6 246.3h0M867.8 250.9h0M868.9 252.5h0M870 246.6h0M871.1 251.3h0M872.3 240.1h0M873.4 245.9h0M874.5 245h0M875.7 245.7h0M876.8 249.4h0M877.9 244.7h0M879.1 246.5h0M880.2 244.3h0M881.3 240.1h0M882.5 245.7h0M883.6 243.7h0M884.7 244.7h0M885.8 254.5h0M887 249.2h0M888.1 250.3h0M889.2 241.5h0M890.4 244.8h0M891.5 236.7h0M892.6 240.7h0M893.8 238.6h0M894.9 241.5h0M896 245.6h0M897.1 240.9h0M898.3 241.6h0M899.4 240.9h0M900.5 242.6h0M901.7 245.2h0M902.8 242.2h0M903.9 256.3h0M905.1 276.2h0M906.2 244h0M907.3 247.3h0M908.4 242h0M909.6 241.3h0M910.7 247.7h0M911.8 249.9h0M913 250.4h0M914.1 250.7h0M915.2 251.7h0M916.4 246.4h0M917.5 247.1h0M918.6 242.3h0M919.7 246.9h0M920.9 250.9h0M922 254.8h0M923.1 253.3h0M924.3 250.2h0M925.4 246.8h0M926.5 248.4h0M927.7 246.8h0M928.8 249.2h0M929.9 249.6h0M931 258.7h0M932.2 253.1h0M933.3 251h0M934.4 246.7h0M935.6 243.6h0M936.7 256.7h0M937.8 245.5h0M939 251.7h0M940.1 265.3h0M941.2 250.4h0M942.3 254.6h0M943.5 250.3h0M944.6 245.3h0M945.7 245.4h0" stroke="#b30000" stroke-width="6.15" stroke-linecap="round" fill="none"/>
<line x1="419.5" x2="419.5" y1="504" y2="115" stroke="#0b5db8" stroke-width="2.8" stroke-dasharray="10.3 4.4"/><line x1="419.5" x2="419.5" y1="115" y2="127" stroke="#0b5db8" stroke-width="2.8"/>
<line x1="451.5" x2="451.5" y1="504" y2="115" stroke="#0b5db8" stroke-width="2.8" stroke-dasharray="10.3 4.4"/><line x1="451.5" x2="451.5" y1="115" y2="127" stroke="#0b5db8" stroke-width="2.8"/>
<polyline points="121.9,495.7 123,496 124.2,497.2 125.3,494.5 126.4,495.8 127.5,497.2 128.7,496.6 129.8,497.1 130.9,495.1 132.1,495.1 133.2,496.3 134.3,497.5 135.5,496.4 136.6,495.9 137.7,493.9 138.8,494.4 140,495.9 141.1,496.8 142.2,496 143.4,495.7 144.5,496.5 145.6,496.6 146.8,495 147.9,496.4 149,496.2 150.1,497.7 151.3,496.5 152.4,496.6 153.5,495.5 154.7,497.3 155.8,496.5 156.9,496.5 158.1,495.7 159.2,498.4 160.3,495.4 161.4,498 162.6,496 163.7,496.9 164.8,495.2 166,496 167.1,498.7 168.2,498.5 169.4,496.1 170.5,496.6 171.6,496.5 172.7,495.9 173.9,495.5 175,497.5 176.1,495 177.3,496 178.4,496.1 179.5,494.7 180.7,495.9 181.8,493.1 182.9,496 184,495.1 185.2,496.3 186.3,498.1 187.4,495.7 188.6,499 189.7,496.2 190.8,496.4 192,496.1 193.1,495.4 194.2,497.1 195.3,496.8 196.5,495.3 197.6,494.5 198.7,496.5 199.9,496.1 201,496.3 202.1,495.7 203.3,494 204.4,495.7 205.5,496.5 206.7,495.1 207.8,494.6 208.9,495.6 210,496.9 211.2,495.9 212.3,496.8 213.4,494.2 214.6,495.6 215.7,494.8 216.8,495.4 218,496.7 219.1,496.8 220.2,497.2 221.3,498.2 222.5,497 223.6,495.8 224.7,495.7 225.9,495.3 227,497.8 228.1,491.5 229.3,496.6 230.4,498.1 231.5,495.5 232.6,495.1 233.8,497.3 234.9,496.2 236,498.4 237.2,494.6 238.3,493.6 239.4,497.7 240.6,497 241.7,494.1 242.8,496.3 243.9,495.4 245.1,498.2 246.2,498.1 247.3,496.4 248.5,494.7 249.6,495.2 250.7,499 251.9,496.1 253,496.4 254.1,494.4 255.2,496.6 256.4,494.9 257.5,496.7 258.6,494.8 259.8,494.3 260.9,497.9 262,495.4 263.2,496.6 264.3,496.2 265.4,494.9 266.5,493.7 267.7,496.8 268.8,498.1 269.9,497.6 271.1,496.1 272.2,494 273.3,494.8 274.5,495.2 275.6,495.7 276.7,494.5 277.8,495.8 279,497.5 280.1,495.7 281.2,494.6 282.4,496.3 283.5,496.1 284.6,496.7 285.8,497.9 286.9,494.8 288,495 289.1,497.9 290.3,495.8 291.4,495.9 292.5,494.2 293.7,498.8 294.8,496 295.9,497.6 297.1,496.5 298.2,496.6 299.3,496.4 300.4,497.3 301.6,497.6 302.7,493 303.8,496.4 305,494.2 306.1,497 307.2,498.8 308.4,498 309.5,496.2 310.6,494.6 311.7,495.1 312.9,495.1 314,494.3 315.1,495.7 316.3,494.1 317.4,496.6 318.5,494.2 319.7,496.6 320.8,497.1 321.9,498.2 323.1,494.7 324.2,494.3 325.3,495.4 326.4,496.5 327.6,498 328.7,494.1 329.8,496 331,495.1 332.1,495.4 333.2,498.2 334.4,495.6 335.5,492.9 336.6,496.4 337.7,495.9 338.9,495.4 340,495.4 341.1,494.7 342.3,495.1 343.4,496.3 344.5,498.2 345.7,495.9 346.8,496.1 347.9,496 349,495.8 350.2,495.1 351.3,494.2 352.4,494.7 353.6,495.8 354.7,495.1 355.8,497.5 357,494.1 358.1,495.1 359.2,496 360.3,495.9 361.5,498.9 362.6,493.2 363.7,496.8 364.9,496.3 366,495.4 367.1,495.7 368.3,496.2 369.4,495.5 370.5,495.8 371.6,496.4 372.8,495.2 373.9,496.8 375,495.8 376.2,495 377.3,498.4 378.4,497.5 379.6,497 380.7,498.5 381.8,495.3 382.9,495.7 384.1,495.1 385.2,497.6 386.3,496.1 387.5,496.5 388.6,496.8 389.7,495.9 390.9,494.9 392,495 393.1,496.3 394.2,495.9 395.4,496 396.5,495.1 397.6,497 398.8,496.4 399.9,496.6 401,496.5 402.2,498.6 403.3,495 404.4,496.6 405.5,495.8 406.7,494.1 407.8,495 408.9,495.9 410.1,496.3 411.2,496.3 412.3,495.1 413.5,497.3 414.6,496 415.7,496.4 416.8,498.1 423.6,498.2 424.8,495.8 425.9,496.5 427,496.4 428.2,496.7 429.3,495.1 430.4,496.8 431.5,495.8 432.7,496.2 433.8,496 434.9,495.2 436.1,498.9 437.2,497.9 438.3,495.8 439.5,497.2 440.6,496 441.7,494.5 442.8,496.3 444,497 445.1,496.3 446.2,498 447.4,498 448.5,496.9 449.6,493.5 450.8,496.5 451.9,497.4 453,496.1 454.1,494.7 455.3,496.5 456.4,498.5 457.5,493.4 566,495 567.2,496 568.3,495.3 569.4,495.2 570.5,496.4 571.7,496 572.8,496.1 573.9,498.1 575.1,496.7 576.2,496 577.3,495.7 578.5,498 579.6,496.1 580.7,498 581.8,496.9 583,496.1 584.1,497.1 585.2,496.3 586.4,495.4 587.5,498 588.6,496.2 589.8,495.6 590.9,496.5 592,496.7 593.1,496.2 594.3,496.1 595.4,495.7 596.5,495.6 597.7,495.2 598.8,498 599.9,495.8 601.1,498.1 602.2,494.7 603.3,496.9 604.4,496.2 605.6,496.9 606.7,495.9 607.8,497.5 609,496.5 610.1,497.1 611.2,496.7 612.4,497 613.5,495.1 614.6,496.5 615.7,496 616.9,496.6 618,495.4 619.1,498.2 620.3,495.8 621.4,497.2 622.5,497.6 623.7,496.2 624.8,496 625.9,495.8 627,496.2 628.2,496.9 629.3,495.1 630.4,496.4 631.6,498.1 632.7,496.4 633.8,498.7 635,496.2 636.1,497 637.2,497.6 638.3,495.4 639.5,498.3 640.6,495.4 641.7,496.7 642.9,496.3 644,498.2 645.1,495.2 646.3,495.1 647.4,498.6 648.5,496.1 649.6,495.6 650.8,496.3 651.9,495.3 653,496 654.2,496.7 655.3,496.3 656.4,496.9 657.6,496.2 658.7,496.8 659.8,496.5 661,495.8 662.1,497.3 663.2,497.9 664.3,495.1 665.5,495.6 666.6,492.8 667.7,496.1 668.9,495.1 670,493 671.1,496 672.3,497 673.4,495.6 674.5,494.9 675.6,496 676.8,497.1 677.9,496.4 679,496.1 680.2,494.5 681.3,497.6 682.4,496.7 683.6,496.6 684.7,496.2 685.8,492.9 686.9,495.4 688.1,497.7 689.2,497.1 690.3,496 691.5,496 692.6,495.7 693.7,495.7 694.9,496 696,494 697.1,498.2 698.2,496.7 699.4,495.2 700.5,498.8 701.6,494.8 702.8,496.9 703.9,497.1 705,496.7 706.2,496.1 707.3,495.9 708.4,496.9 709.5,497 710.7,496.6 711.8,495.5 712.9,495.9 714.1,496.7 715.2,497.9 716.3,495.9 717.5,497.2 718.6,498.7 719.7,498.3 720.8,496.8 722,495 723.1,498.3 724.2,497.2 725.4,496.3 726.5,497.8 727.6,498.3 728.8,496.9 729.9,494.8 731,495 732.1,494 733.3,497.4 734.4,497.1 735.5,496.6 736.7,497.8 737.8,498.6 738.9,498.3 740.1,496.4 741.2,496.8 742.3,497.2 743.4,495.5 744.6,497.3 745.7,496.6 746.8,496.5 748,498.3 749.1,498.5 750.2,495.9 751.4,496.2 752.5,496.5 753.6,495.2 754.7,497.9 755.9,497 757,496.9 758.1,495.8 759.3,496.9 760.4,494.9 761.5,498.6 762.7,496.7 763.8,496.8 764.9,492.8 766.1,497.4 767.2,496.1 768.3,496.6 769.4,495.6 770.6,495.3 771.7,497 772.8,497.4 774,498.5 775.1,498.8 776.2,495.7 777.4,496.9 778.5,496 779.6,496.6 780.7,498.8 781.9,496.7 783,496 784.1,495.8 785.3,496.7 786.4,498.5 787.5,497.1 788.7,497.6 789.8,498 790.9,496.1 792,496.4 793.2,496.1 794.3,495.9 795.4,497.6 796.6,496.7 797.7,496.4 798.8,497.1 800,496 801.1,498.9 802.2,496.3 803.3,496.3 804.5,495.7 805.6,498.8 806.7,497.6 807.9,496.4 809,495.7 810.1,498.1 811.3,495.3 812.4,496.5 813.5,497.3 814.6,498.3 815.8,496.2 816.9,496.6 818,496.8 819.2,496.9 820.3,495.9 821.4,494.9 822.6,496.9 823.7,496.6 824.8,496 825.9,497.1 827.1,496.9 828.2,497.5 829.3,495.7 830.5,497 831.6,498.9 832.7,498 833.9,496.4 835,496.8 836.1,495.1 837.2,498.7 838.4,496.5 839.5,496.6 840.6,493.5 841.8,496 842.9,495.7 844,495.6 845.2,496.8 846.3,496.4 847.4,495.8 848.5,494 849.7,498.4 850.8,496 851.9,495 853.1,496.3 854.2,494.5 855.3,496.6 856.5,495.5 857.6,496.5 858.7,495.1 859.8,496.3 861,496.3 862.1,495.8 863.2,495 864.4,495.9 865.5,496.3 866.6,496.4 867.8,495.7 868.9,496.4 870,497.3 871.1,495.7 872.3,497 873.4,496.6 874.5,496.6 875.7,497.5 876.8,497.5 877.9,496.6 879.1,495.9 880.2,497.3 881.3,495.5 882.5,496.1 883.6,496.4 884.7,495.9 885.8,495.6 887,495.9 888.1,495.9 889.2,497.9 890.4,496.3 891.5,498.8 892.6,495.8 893.8,496.2 894.9,496.2 896,496.7 897.1,496 898.3,497.6 899.4,496.6 900.5,497.1 901.7,497.3 902.8,495.6 903.9,497.3 905.1,495.4 906.2,497.5 907.3,498.3 908.4,498.1 909.6,496 910.7,497.5 911.8,496.3 913,495 914.1,496 915.2,496.3 916.4,496 917.5,496.7 918.6,496.5 919.7,496.7 920.9,497.3 922,492.7 923.1,495.7 924.3,496.7 925.4,495.7 926.5,495.6 927.7,496.1 928.8,496.3 929.9,496.1 931,497.2 932.2,496.8 933.3,495.6 934.4,496.1 935.6,496.6 936.7,494.7 937.8,498.5 939,498.5 940.1,494.6 941.2,495.8 942.3,497.9 943.5,497 944.6,495.9 945.7,494.6" fill="none" stroke="#c48fd0" stroke-width="0.6" opacity="0.8"/>
<path d="M121.9 495.7h0M123 496h0M124.2 497.2h0M125.3 494.5h0M126.4 495.8h0M127.5 497.2h0M128.7 496.6h0M129.8 497.1h0M130.9 495.1h0M132.1 495.1h0M133.2 496.3h0M134.3 497.5h0M135.5 496.4h0M136.6 495.9h0M137.7 493.9h0M138.8 494.4h0M140 495.9h0M141.1 496.8h0M142.2 496h0M143.4 495.7h0M144.5 496.5h0M145.6 496.6h0M146.8 495h0M147.9 496.4h0M149 496.2h0M150.1 497.7h0M151.3 496.5h0M152.4 496.6h0M153.5 495.5h0M154.7 497.3h0M155.8 496.5h0M156.9 496.5h0M158.1 495.7h0M159.2 498.4h0M160.3 495.4h0M161.4 498h0M162.6 496h0M163.7 496.9h0M164.8 495.2h0M166 496h0M167.1 498.7h0M168.2 498.5h0M169.4 496.1h0M170.5 496.6h0M171.6 496.5h0M172.7 495.9h0M173.9 495.5h0M175 497.5h0M176.1 495h0M177.3 496h0M178.4 496.1h0M179.5 494.7h0M180.7 495.9h0M181.8 493.1h0M182.9 496h0M184 495.1h0M185.2 496.3h0M186.3 498.1h0M187.4 495.7h0M188.6 499h0M189.7 496.2h0M190.8 496.4h0M192 496.1h0M193.1 495.4h0M194.2 497.1h0M195.3 496.8h0M196.5 495.3h0M197.6 494.5h0M198.7 496.5h0M199.9 496.1h0M201 496.3h0M202.1 495.7h0M203.3 494h0M204.4 495.7h0M205.5 496.5h0M206.7 495.1h0M207.8 494.6h0M208.9 495.6h0M210 496.9h0M211.2 495.9h0M212.3 496.8h0M213.4 494.2h0M214.6 495.6h0M215.7 494.8h0M216.8 495.4h0M218 496.7h0M219.1 496.8h0M220.2 497.2h0M221.3 498.2h0M222.5 497h0M223.6 495.8h0M224.7 495.7h0M225.9 495.3h0M227 497.8h0M228.1 491.5h0M229.3 496.6h0M230.4 498.1h0M231.5 495.5h0M232.6 495.1h0M233.8 497.3h0M234.9 496.2h0M236 498.4h0M237.2 494.6h0M238.3 493.6h0M239.4 497.7h0M240.6 497h0M241.7 494.1h0M242.8 496.3h0M243.9 495.4h0M245.1 498.2h0M246.2 498.1h0M247.3 496.4h0M248.5 494.7h0M249.6 495.2h0M250.7 499h0M251.9 496.1h0M253 496.4h0M254.1 494.4h0M255.2 496.6h0M256.4 494.9h0M257.5 496.7h0M258.6 494.8h0M259.8 494.3h0M260.9 497.9h0M262 495.4h0M263.2 496.6h0M264.3 496.2h0M265.4 494.9h0M266.5 493.7h0M267.7 496.8h0M268.8 498.1h0M269.9 497.6h0M271.1 496.1h0M272.2 494h0M273.3 494.8h0M274.5 495.2h0M275.6 495.7h0M276.7 494.5h0M277.8 495.8h0M279 497.5h0M280.1 495.7h0M281.2 494.6h0M282.4 496.3h0M283.5 496.1h0M284.6 496.7h0M285.8 497.9h0M286.9 494.8h0M288 495h0M289.1 497.9h0M290.3 495.8h0M291.4 495.9h0M292.5 494.2h0M293.7 498.8h0M294.8 496h0M295.9 497.6h0M297.1 496.5h0M298.2 496.6h0M299.3 496.4h0M300.4 497.3h0M301.6 497.6h0M302.7 493h0M303.8 496.4h0M305 494.2h0M306.1 497h0M307.2 498.8h0M308.4 498h0M309.5 496.2h0M310.6 494.6h0M311.7 495.1h0M312.9 495.1h0M314 494.3h0M315.1 495.7h0M316.3 494.1h0M317.4 496.6h0M318.5 494.2h0M319.7 496.6h0M320.8 497.1h0M321.9 498.2h0M323.1 494.7h0M324.2 494.3h0M325.3 495.4h0M326.4 496.5h0M327.6 498h0M328.7 494.1h0M329.8 496h0M331 495.1h0M332.1 495.4h0M333.2 498.2h0M334.4 495.6h0M335.5 492.9h0M336.6 496.4h0M337.7 495.9h0M338.9 495.4h0M340 495.4h0M341.1 494.7h0M342.3 495.1h0M343.4 496.3h0M344.5 498.2h0M345.7 495.9h0M346.8 496.1h0M347.9 496h0M349 495.8h0M350.2 495.1h0M351.3 494.2h0M352.4 494.7h0M353.6 495.8h0M354.7 495.1h0M355.8 497.5h0M357 494.1h0M358.1 495.1h0M359.2 496h0M360.3 495.9h0M361.5 498.9h0M362.6 493.2h0M363.7 496.8h0M364.9 496.3h0M366 495.4h0M367.1 495.7h0M368.3 496.2h0M369.4 495.5h0M370.5 495.8h0M371.6 496.4h0M372.8 495.2h0M373.9 496.8h0M375 495.8h0M376.2 495h0M377.3 498.4h0M378.4 497.5h0M379.6 497h0M380.7 498.5h0M381.8 495.3h0M382.9 495.7h0M384.1 495.1h0M385.2 497.6h0M386.3 496.1h0M387.5 496.5h0M388.6 496.8h0M389.7 495.9h0M390.9 494.9h0M392 495h0M393.1 496.3h0M394.2 495.9h0M395.4 496h0M396.5 495.1h0M397.6 497h0M398.8 496.4h0M399.9 496.6h0M401 496.5h0M402.2 498.6h0M403.3 495h0M404.4 496.6h0M405.5 495.8h0M406.7 494.1h0M407.8 495h0M408.9 495.9h0M410.1 496.3h0M411.2 496.3h0M412.3 495.1h0M413.5 497.3h0M414.6 496h0M415.7 496.4h0M416.8 498.1h0M423.6 498.2h0M424.8 495.8h0M425.9 496.5h0M427 496.4h0M428.2 496.7h0M429.3 495.1h0M430.4 496.8h0M431.5 495.8h0M432.7 496.2h0M433.8 496h0M434.9 495.2h0M436.1 498.9h0M437.2 497.9h0M438.3 495.8h0M439.5 497.2h0M440.6 496h0M441.7 494.5h0M442.8 496.3h0M444 497h0M445.1 496.3h0M446.2 498h0M447.4 498h0M448.5 496.9h0M449.6 493.5h0M450.8 496.5h0M451.9 497.4h0M453 496.1h0M454.1 494.7h0M455.3 496.5h0M456.4 498.5h0M457.5 493.4h0M566 495h0M567.2 496h0M568.3 495.3h0M569.4 495.2h0M570.5 496.4h0M571.7 496h0M572.8 496.1h0M573.9 498.1h0M575.1 496.7h0M576.2 496h0M577.3 495.7h0M578.5 498h0M579.6 496.1h0M580.7 498h0M581.8 496.9h0M583 496.1h0M584.1 497.1h0M585.2 496.3h0M586.4 495.4h0M587.5 498h0M588.6 496.2h0M589.8 495.6h0M590.9 496.5h0M592 496.7h0M593.1 496.2h0M594.3 496.1h0M595.4 495.7h0M596.5 495.6h0M597.7 495.2h0M598.8 498h0M599.9 495.8h0M601.1 498.1h0M602.2 494.7h0M603.3 496.9h0M604.4 496.2h0M605.6 496.9h0M606.7 495.9h0M607.8 497.5h0M609 496.5h0M610.1 497.1h0M611.2 496.7h0M612.4 497h0M613.5 495.1h0M614.6 496.5h0M615.7 496h0M616.9 496.6h0M618 495.4h0M619.1 498.2h0M620.3 495.8h0M621.4 497.2h0M622.5 497.6h0M623.7 496.2h0M624.8 496h0M625.9 495.8h0M627 496.2h0M628.2 496.9h0M629.3 495.1h0M630.4 496.4h0M631.6 498.1h0M632.7 496.4h0M633.8 498.7h0M635 496.2h0M636.1 497h0M637.2 497.6h0M638.3 495.4h0M639.5 498.3h0M640.6 495.4h0M641.7 496.7h0M642.9 496.3h0M644 498.2h0M645.1 495.2h0M646.3 495.1h0M647.4 498.6h0M648.5 496.1h0M649.6 495.6h0M650.8 496.3h0M651.9 495.3h0M653 496h0M654.2 496.7h0M655.3 496.3h0M656.4 496.9h0M657.6 496.2h0M658.7 496.8h0M659.8 496.5h0M661 495.8h0M662.1 497.3h0M663.2 497.9h0M664.3 495.1h0M665.5 495.6h0M666.6 492.8h0M667.7 496.1h0M668.9 495.1h0M670 493h0M671.1 496h0M672.3 497h0M673.4 495.6h0M674.5 494.9h0M675.6 496h0M676.8 497.1h0M677.9 496.4h0M679 496.1h0M680.2 494.5h0M681.3 497.6h0M682.4 496.7h0M683.6 496.6h0M684.7 496.2h0M685.8 492.9h0M686.9 495.4h0M688.1 497.7h0M689.2 497.1h0M690.3 496h0M691.5 496h0M692.6 495.7h0M693.7 495.7h0M694.9 496h0M696 494h0M697.1 498.2h0M698.2 496.7h0M699.4 495.2h0M700.5 498.8h0M701.6 494.8h0M702.8 496.9h0M703.9 497.1h0M705 496.7h0M706.2 496.1h0M707.3 495.9h0M708.4 496.9h0M709.5 497h0M710.7 496.6h0M711.8 495.5h0M712.9 495.9h0M714.1 496.7h0M715.2 497.9h0M716.3 495.9h0M717.5 497.2h0M718.6 498.7h0M719.7 498.3h0M720.8 496.8h0M722 495h0M723.1 498.3h0M724.2 497.2h0M725.4 496.3h0M726.5 497.8h0M727.6 498.3h0M728.8 496.9h0M729.9 494.8h0M731 495h0M732.1 494h0M733.3 497.4h0M734.4 497.1h0M735.5 496.6h0M736.7 497.8h0M737.8 498.6h0M738.9 498.3h0M740.1 496.4h0M741.2 496.8h0M742.3 497.2h0M743.4 495.5h0M744.6 497.3h0M745.7 496.6h0M746.8 496.5h0M748 498.3h0M749.1 498.5h0M750.2 495.9h0M751.4 496.2h0M752.5 496.5h0M753.6 495.2h0M754.7 497.9h0M755.9 497h0M757 496.9h0M758.1 495.8h0M759.3 496.9h0M760.4 494.9h0M761.5 498.6h0M762.7 496.7h0M763.8 496.8h0M764.9 492.8h0M766.1 497.4h0M767.2 496.1h0M768.3 496.6h0M769.4 495.6h0M770.6 495.3h0M771.7 497h0M772.8 497.4h0M774 498.5h0M775.1 498.8h0M776.2 495.7h0M777.4 496.9h0M778.5 496h0M779.6 496.6h0M780.7 498.8h0M781.9 496.7h0M783 496h0M784.1 495.8h0M785.3 496.7h0M786.4 498.5h0M787.5 497.1h0M788.7 497.6h0M789.8 498h0M790.9 496.1h0M792 496.4h0M793.2 496.1h0M794.3 495.9h0M795.4 497.6h0M796.6 496.7h0M797.7 496.4h0M798.8 497.1h0M800 496h0M801.1 498.9h0M802.2 496.3h0M803.3 496.3h0M804.5 495.7h0M805.6 498.8h0M806.7 497.6h0M807.9 496.4h0M809 495.7h0M810.1 498.1h0M811.3 495.3h0M812.4 496.5h0M813.5 497.3h0M814.6 498.3h0M815.8 496.2h0M816.9 496.6h0M818 496.8h0M819.2 496.9h0M820.3 495.9h0M821.4 494.9h0M822.6 496.9h0M823.7 496.6h0M824.8 496h0M825.9 497.1h0M827.1 496.9h0M828.2 497.5h0M829.3 495.7h0M830.5 497h0M831.6 498.9h0M832.7 498h0M833.9 496.4h0M835 496.8h0M836.1 495.1h0M837.2 498.7h0M838.4 496.5h0M839.5 496.6h0M840.6 493.5h0M841.8 496h0M842.9 495.7h0M844 495.6h0M845.2 496.8h0M846.3 496.4h0M847.4 495.8h0M848.5 494h0M849.7 498.4h0M850.8 496h0M851.9 495h0M853.1 496.3h0M854.2 494.5h0M855.3 496.6h0M856.5 495.5h0M857.6 496.5h0M858.7 495.1h0M859.8 496.3h0M861 496.3h0M862.1 495.8h0M863.2 495h0M864.4 495.9h0M865.5 496.3h0M866.6 496.4h0M867.8 495.7h0M868.9 496.4h0M870 497.3h0M871.1 495.7h0M872.3 497h0M873.4 496.6h0M874.5 496.6h0M875.7 497.5h0M876.8 497.5h0M877.9 496.6h0M879.1 495.9h0M880.2 497.3h0M881.3 495.5h0M882.5 496.1h0M883.6 496.4h0M884.7 495.9h0M885.8 495.6h0M887 495.9h0M888.1 495.9h0M889.2 497.9h0M890.4 496.3h0M891.5 498.8h0M892.6 495.8h0M893.8 496.2h0M894.9 496.2h0M896 496.7h0M897.1 496h0M898.3 497.6h0M899.4 496.6h0M900.5 497.1h0M901.7 497.3h0M902.8 495.6h0M903.9 497.3h0M905.1 495.4h0M906.2 497.5h0M907.3 498.3h0M908.4 498.1h0M909.6 496h0M910.7 497.5h0M911.8 496.3h0M913 495h0M914.1 496h0M915.2 496.3h0M916.4 496h0M917.5 496.7h0M918.6 496.5h0M919.7 496.7h0M920.9 497.3h0M922 492.7h0M923.1 495.7h0M924.3 496.7h0M925.4 495.7h0M926.5 495.6h0M927.7 496.1h0M928.8 496.3h0M929.9 496.1h0M931 497.2h0M932.2 496.8h0M933.3 495.6h0M934.4 496.1h0M935.6 496.6h0M936.7 494.7h0M937.8 498.5h0M939 498.5h0M940.1 494.6h0M941.2 495.8h0M942.3 497.9h0M943.5 497h0M944.6 495.9h0M945.7 494.6h0" stroke="#c18dcf" stroke-width="6.2" stroke-linecap="round" fill="none"/>
<line x1="116.3" x2="949.5" y1="499.5" y2="499.5" stroke="#000" stroke-width="2.8" stroke-dasharray="2.8 4.58"/>
<line x1="145.5" x2="145.5" y1="112" y2="503" stroke="#cc0000" stroke-width="2.9"/>
</g>
<line x1="122" x2="990.4" y1="125" y2="125" stroke="#000" stroke-width="2.2"/>
<g clip-path="url(#c)">
<path d="M121.9 118.3h0M123 118.3h0M124.2 118.3h0M125.3 118.3h0M126.4 118.3h0M127.5 118.3h0M128.7 118.3h0M129.8 118.3h0M130.9 118.3h0M132.1 118.3h0M133.2 118.3h0M134.3 118.3h0M135.5 118.3h0M136.6 118.3h0M137.7 118.3h0M138.8 118.3h0M140 118.3h0M141.1 118.3h0M142.2 118.3h0M143.4 118.3h0M144.5 118.3h0M145.6 118.3h0M146.8 118.3h0M147.9 118.3h0M149 118.3h0M150.1 118.3h0M151.3 118.3h0M152.4 118.3h0M153.5 118.3h0M154.7 118.3h0M155.8 118.3h0M156.9 118.3h0M158.1 118.3h0M159.2 118.3h0M160.3 118.3h0M161.4 118.3h0M162.6 118.3h0M163.7 118.3h0M164.8 118.3h0M166 118.3h0M167.1 118.3h0M168.2 118.3h0M169.4 118.3h0M170.5 118.3h0M171.6 118.3h0M172.7 118.3h0M173.9 118.3h0M175 118.3h0M176.1 118.3h0M177.3 118.3h0M178.4 118.3h0M179.5 118.3h0M180.7 118.3h0M181.8 118.3h0M182.9 118.3h0M184 118.3h0M185.2 118.3h0M186.3 118.3h0M187.4 118.3h0M188.6 118.3h0M189.7 118.3h0M190.8 118.3h0M192 118.3h0M193.1 118.3h0M194.2 118.3h0M195.3 118.3h0M196.5 118.3h0M197.6 118.3h0M198.7 118.3h0M199.9 118.3h0M201 118.3h0M202.1 118.3h0M203.3 118.3h0M204.4 118.3h0M205.5 118.3h0M206.7 118.3h0M207.8 118.3h0M208.9 118.3h0M210 118.3h0M211.2 118.3h0M212.3 118.3h0M213.4 118.3h0M214.6 118.3h0M215.7 118.3h0M216.8 118.3h0M218 118.3h0M219.1 118.3h0M220.2 118.3h0M221.3 118.3h0M222.5 118.3h0M223.6 118.3h0M224.7 118.3h0M225.9 118.3h0M227 118.3h0M228.1 118.3h0M229.3 118.3h0M230.4 118.3h0M231.5 118.3h0M232.6 118.3h0M233.8 118.3h0M234.9 118.3h0M236 118.3h0M237.2 118.3h0M238.3 118.3h0M239.4 118.3h0M240.6 118.3h0M241.7 118.3h0M242.8 118.3h0M243.9 118.3h0M245.1 118.3h0M246.2 118.3h0M247.3 118.3h0M248.5 118.3h0M249.6 118.3h0M250.7 118.3h0M251.9 118.3h0M253 118.3h0M254.1 118.3h0M255.2 118.3h0M256.4 118.3h0M257.5 118.3h0M258.6 118.3h0M259.8 118.3h0M260.9 118.3h0M262 118.3h0M263.2 118.3h0M264.3 118.3h0M265.4 118.3h0M266.5 118.3h0M267.7 118.3h0M268.8 118.3h0M269.9 118.3h0M271.1 118.3h0M272.2 118.3h0M273.3 118.3h0M274.5 118.3h0M275.6 118.3h0M276.7 118.3h0M277.8 118.3h0M279 118.3h0M280.1 118.3h0M281.2 118.3h0M282.4 118.3h0M283.5 118.3h0M284.6 118.3h0M285.8 118.3h0M286.9 118.3h0M288 118.3h0M289.1 118.3h0M290.3 118.3h0M291.4 118.3h0M292.5 118.3h0M293.7 118.3h0M294.8 118.3h0M295.9 118.3h0M297.1 118.3h0M298.2 118.3h0M299.3 118.3h0M300.4 118.3h0M301.6 118.3h0M302.7 118.3h0M303.8 118.3h0M305 118.3h0M306.1 118.3h0M307.2 118.3h0M308.4 118.3h0M309.5 118.3h0M310.6 118.3h0M311.7 118.3h0M312.9 118.3h0M314 118.3h0M315.1 118.3h0M316.3 118.3h0M317.4 118.3h0M318.5 118.3h0M319.7 118.3h0M320.8 118.3h0M321.9 118.3h0M323.1 118.3h0M324.2 118.3h0M325.3 118.3h0M326.4 118.3h0M327.6 118.3h0M328.7 118.3h0M329.8 118.3h0M331 118.3h0M332.1 118.3h0M333.2 118.3h0M334.4 118.3h0M335.5 118.3h0M336.6 118.3h0M337.7 118.3h0M338.9 118.3h0M340 118.3h0M341.1 118.3h0M342.3 118.3h0M343.4 118.3h0M344.5 118.3h0M345.7 118.3h0M346.8 118.3h0M347.9 118.3h0M349 118.3h0M350.2 118.3h0M351.3 118.3h0M352.4 118.3h0M353.6 118.3h0M354.7 118.3h0M355.8 118.3h0M357 118.3h0M358.1 118.3h0M359.2 118.3h0M360.3 118.3h0M361.5 118.3h0M362.6 118.3h0M363.7 118.3h0M364.9 118.3h0M366 118.3h0M367.1 118.3h0M368.3 118.3h0M369.4 118.3h0M370.5 118.3h0M371.6 118.3h0M372.8 118.3h0M373.9 118.3h0M375 118.3h0M376.2 118.3h0M377.3 118.3h0M378.4 118.3h0M379.6 118.3h0M380.7 118.3h0M381.8 118.3h0M382.9 118.3h0M384.1 118.3h0M385.2 118.3h0M386.3 118.3h0M387.5 118.3h0M388.6 118.3h0M389.7 118.3h0M390.9 118.3h0M392 118.3h0M393.1 118.3h0M394.2 118.3h0M395.4 118.3h0M396.5 118.3h0M397.6 118.3h0M398.8 118.3h0M399.9 118.3h0M401 118.3h0M402.2 118.3h0M403.3 118.3h0M404.4 118.3h0M405.5 118.3h0M406.7 118.3h0M407.8 118.3h0M408.9 118.3h0M410.1 118.3h0M411.2 118.3h0M412.3 118.3h0M413.5 118.3h0M414.6 118.3h0M415.7 118.3h0M416.8 118.3h0M423.6 118.3h0M424.8 118.3h0M425.9 118.3h0M427 118.3h0M428.2 118.3h0M429.3 118.3h0M430.4 118.3h0M431.5 118.3h0M432.7 118.3h0M433.8 118.3h0M434.9 118.3h0M436.1 118.3h0M437.2 118.3h0M438.3 118.3h0M439.5 118.3h0M440.6 118.3h0M441.7 118.3h0M442.8 118.3h0M444 118.3h0M445.1 118.3h0M446.2 118.3h0M447.4 118.3h0M448.5 118.3h0M449.6 118.3h0M450.8 118.3h0M451.9 118.3h0M453 118.3h0M454.1 118.3h0M455.3 118.3h0M456.4 118.3h0M457.5 118.3h0M566 118.3h0M567.2 118.3h0M568.3 118.3h0M569.4 118.3h0M570.5 118.3h0M571.7 118.3h0M572.8 118.3h0M573.9 118.3h0M575.1 118.3h0M576.2 118.3h0M577.3 118.3h0M578.5 118.3h0M579.6 118.3h0M580.7 118.3h0M581.8 118.3h0M583 118.3h0M584.1 118.3h0M585.2 118.3h0M586.4 118.3h0M587.5 118.3h0M588.6 118.3h0M589.8 118.3h0M590.9 118.3h0M592 118.3h0M593.1 118.3h0M594.3 118.3h0M595.4 118.3h0M596.5 118.3h0M597.7 118.3h0M598.8 118.3h0M599.9 118.3h0M601.1 118.3h0M602.2 118.3h0M603.3 118.3h0M604.4 118.3h0M605.6 118.3h0M606.7 118.3h0M607.8 118.3h0M609 118.3h0M610.1 118.3h0M611.2 118.3h0M612.4 118.3h0M613.5 118.3h0M614.6 118.3h0M615.7 118.3h0M616.9 118.3h0M618 118.3h0M619.1 118.3h0M620.3 118.3h0M621.4 118.3h0M622.5 118.3h0M623.7 118.3h0M624.8 118.3h0M625.9 118.3h0M627 118.3h0M628.2 118.3h0M629.3 118.3h0M630.4 118.3h0M631.6 118.3h0M632.7 118.3h0M633.8 118.3h0M635 118.3h0M636.1 118.3h0M637.2 118.3h0M638.3 118.3h0M639.5 118.3h0M640.6 118.3h0M641.7 118.3h0M642.9 118.3h0M644 118.3h0M645.1 118.3h0M646.3 118.3h0M647.4 118.3h0M648.5 118.3h0M649.6 118.3h0M650.8 118.3h0M651.9 118.3h0M653 118.3h0M654.2 118.3h0M655.3 118.3h0M656.4 118.3h0M657.6 118.3h0M658.7 118.3h0M659.8 118.3h0M661 118.3h0M662.1 118.3h0M663.2 118.3h0M664.3 118.3h0M665.5 118.3h0M666.6 118.3h0M667.7 118.3h0M668.9 118.3h0M670 118.3h0M671.1 118.3h0M672.3 118.3h0M673.4 118.3h0M674.5 118.3h0M675.6 118.3h0M676.8 118.3h0M677.9 118.3h0M679 118.3h0M680.2 118.3h0M681.3 118.3h0M682.4 118.3h0M683.6 118.3h0M684.7 118.3h0M685.8 118.3h0M686.9 118.3h0M688.1 118.3h0M689.2 118.3h0M690.3 118.3h0M691.5 118.3h0M692.6 118.3h0M693.7 118.3h0M694.9 118.3h0M696 118.3h0M697.1 118.3h0M698.2 118.3h0M699.4 118.3h0M700.5 118.3h0M701.6 118.3h0M702.8 118.3h0M703.9 118.3h0M705 118.3h0M706.2 118.3h0M707.3 118.3h0M708.4 118.3h0M709.5 118.3h0M710.7 118.3h0M711.8 118.3h0M712.9 118.3h0M714.1 118.3h0M715.2 118.3h0M716.3 118.3h0M717.5 118.3h0M718.6 118.3h0M719.7 118.3h0M720.8 118.3h0M722 118.3h0M723.1 118.3h0M724.2 118.3h0M725.4 118.3h0M726.5 118.3h0M727.6 118.3h0M728.8 118.3h0M729.9 118.3h0M731 118.3h0M732.1 118.3h0M733.3 118.3h0M734.4 118.3h0M735.5 118.3h0M736.7 118.3h0M737.8 118.3h0M738.9 118.3h0M740.1 118.3h0M741.2 118.3h0M742.3 118.3h0M743.4 118.3h0M744.6 118.3h0M745.7 118.3h0M746.8 118.3h0M748 118.3h0M749.1 118.3h0M750.2 118.3h0M751.4 118.3h0M752.5 118.3h0M753.6 118.3h0M754.7 118.3h0M755.9 118.3h0M757 118.3h0M758.1 118.3h0M759.3 118.3h0M760.4 118.3h0M761.5 118.3h0M762.7 118.3h0M763.8 118.3h0M764.9 118.3h0M766.1 118.3h0M767.2 118.3h0M768.3 118.3h0M769.4 118.3h0M770.6 118.3h0M771.7 118.3h0M772.8 118.3h0M774 118.3h0M775.1 118.3h0M776.2 118.3h0M777.4 118.3h0M778.5 118.3h0M779.6 118.3h0M780.7 118.3h0M781.9 118.3h0M783 118.3h0M784.1 118.3h0M785.3 118.3h0M786.4 118.3h0M787.5 118.3h0M788.7 118.3h0M789.8 118.3h0M790.9 118.3h0M792 118.3h0M793.2 118.3h0M794.3 118.3h0M795.4 118.3h0M796.6 118.3h0M797.7 118.3h0M798.8 118.3h0M800 118.3h0M801.1 118.3h0M802.2 118.3h0M803.3 118.3h0M804.5 118.3h0M805.6 118.3h0M806.7 118.3h0M807.9 118.3h0M809 118.3h0M810.1 118.3h0M811.3 118.3h0M812.4 118.3h0M813.5 118.3h0M814.6 118.3h0M815.8 118.3h0M816.9 118.3h0M818 118.3h0M819.2 118.3h0M820.3 118.3h0M821.4 118.3h0M822.6 118.3h0M823.7 118.3h0M824.8 118.3h0M825.9 118.3h0M827.1 118.3h0M828.2 118.3h0M829.3 118.3h0M830.5 118.3h0M831.6 118.3h0M832.7 118.3h0M833.9 118.3h0M835 118.3h0M836.1 118.3h0M837.2 118.3h0M838.4 118.3h0M839.5 118.3h0M840.6 118.3h0M841.8 118.3h0M842.9 118.3h0M844 118.3h0M845.2 118.3h0M846.3 118.3h0M847.4 118.3h0M848.5 118.3h0M849.7 118.3h0M850.8 118.3h0M851.9 118.3h0M853.1 118.3h0M854.2 118.3h0M855.3 118.3h0M856.5 118.3h0M857.6 118.3h0M858.7 118.3h0M859.8 118.3h0M861 118.3h0M862.1 118.3h0M863.2 118.3h0M864.4 118.3h0M865.5 118.3h0M866.6 118.3h0M867.8 118.3h0M868.9 118.3h0M870 118.3h0M871.1 118.3h0M872.3 118.3h0M873.4 118.3h0M874.5 118.3h0M875.7 118.3h0M876.8 118.3h0M877.9 118.3h0M879.1 118.3h0M880.2 118.3h0M881.3 118.3h0M882.5 118.3h0M883.6 118.3h0M884.7 118.3h0M885.8 118.3h0M887 118.3h0M888.1 118.3h0M889.2 118.3h0M890.4 118.3h0M891.5 118.3h0M892.6 118.3h0M893.8 118.3h0M894.9 118.3h0M896 118.3h0M897.1 118.3h0M898.3 118.3h0M899.4 118.3h0M900.5 118.3h0M901.7 118.3h0M902.8 118.3h0M903.9 118.3h0M905.1 118.3h0M906.2 118.3h0M907.3 118.3h0M908.4 118.3h0M909.6 118.3h0M910.7 118.3h0M911.8 118.3h0M913 118.3h0M914.1 118.3h0M915.2 118.3h0M916.4 118.3h0M917.5 118.3h0M918.6 118.3h0M919.7 118.3h0M920.9 118.3h0M922 118.3h0M923.1 118.3h0M924.3 118.3h0M925.4 118.3h0M926.5 118.3h0M927.7 118.3h0M928.8 118.3h0M929.9 118.3h0M931 118.3h0M932.2 118.3h0M933.3 118.3h0M934.4 118.3h0M935.6 118.3h0M936.7 118.3h0M937.8 118.3h0M939 118.3h0M940.1 118.3h0M941.2 118.3h0M942.3 118.3h0M943.5 118.3h0M944.6 118.3h0M945.7 118.3h0" stroke="#660066" stroke-width="6.1" stroke-linecap="round" fill="none"/>
<line x1="949.5" x2="949.5" y1="502.7" y2="115" stroke="#000" stroke-width="2.8" stroke-dasharray="10.3 4.4"/><line x1="949.5" x2="949.5" y1="115" y2="127" stroke="#000" stroke-width="2.8"/>
</g>
<text transform="translate(965.1,133.9) rotate(90) scale(0.82,1)" font-size="23.8" style="font-family:'Liberation Sans','DejaVu Sans',sans-serif">Now</text>
<rect x="122" y="112" width="867" height="391" fill="none" stroke="#000" stroke-width="2.2"/>
<line x1="112" x2="122" y1="499" y2="499" stroke="#000" stroke-width="2.2"/>
<text x="102.6" y="508.4" font-size="25" text-anchor="end">0</text>
<line x1="112" x2="122" y1="424" y2="424" stroke="#000" stroke-width="2.2"/>
<text x="102.6" y="433.5" font-size="25" text-anchor="end">20</text>
<line x1="112" x2="122" y1="349" y2="349" stroke="#000" stroke-width="2.2"/>
<text x="102.6" y="358.7" font-size="25" text-anchor="end">40</text>
<line x1="112" x2="122" y1="274" y2="274" stroke="#000" stroke-width="2.2"/>
<text x="102.6" y="283.9" font-size="25" text-anchor="end">60</text>
<line x1="112" x2="122" y1="199" y2="199" stroke="#000" stroke-width="2.2"/>
<text x="102.6" y="209" font-size="25" text-anchor="end">80</text>
<line x1="112" x2="122" y1="125" y2="125" stroke="#000" stroke-width="2.2"/>
<text x="102.6" y="134.2" font-size="25" text-anchor="end">100</text>
<line x1="116" x2="122" y1="461" y2="461" stroke="#000" stroke-width="1.8"/>
<line x1="116" x2="122" y1="387" y2="387" stroke="#000" stroke-width="1.8"/>
<line x1="116" x2="122" y1="312" y2="312" stroke="#000" stroke-width="1.8"/>
<line x1="116" x2="122" y1="237" y2="237" stroke="#000" stroke-width="1.8"/>
<line x1="116" x2="122" y1="162" y2="162" stroke="#000" stroke-width="1.8"/>
<line x1="132" x2="132" y1="503" y2="509" stroke="#000" stroke-width="1.8"/>
<line x1="166" x2="166" y1="503" y2="509" stroke="#000" stroke-width="1.8"/>
<line x1="201" x2="201" y1="503" y2="513" stroke="#000" stroke-width="2.2"/>
<text x="201.2" y="541.6" font-size="25" text-anchor="middle">06/2024</text>
<line x1="235" x2="235" y1="503" y2="509" stroke="#000" stroke-width="1.8"/>
<line x1="270" x2="270" y1="503" y2="509" stroke="#000" stroke-width="1.8"/>
<line x1="305" x2="305" y1="503" y2="509" stroke="#000" stroke-width="1.8"/>
<line x1="339" x2="339" y1="503" y2="509" stroke="#000" stroke-width="1.8"/>
<line x1="374" x2="374" y1="503" y2="509" stroke="#000" stroke-width="1.8"/>
<line x1="408" x2="408" y1="503" y2="513" stroke="#000" stroke-width="2.2"/>
<text x="408" y="541.6" font-size="25" text-anchor="middle">12/2024</text>
<line x1="443" x2="443" y1="503" y2="509" stroke="#000" stroke-width="1.8"/>
<line x1="478" x2="478" y1="503" y2="509" stroke="#000" stroke-width="1.8"/>
<line x1="510" x2="510" y1="503" y2="509" stroke="#000" stroke-width="1.8"/>
<line x1="545" x2="545" y1="503" y2="509" stroke="#000" stroke-width="1.8"/>
<line x1="578" x2="578" y1="503" y2="509" stroke="#000" stroke-width="1.8"/>
<line x1="613" x2="613" y1="503" y2="513" stroke="#000" stroke-width="2.2"/>
<text x="613.7" y="541.6" font-size="25" text-anchor="middle">06/2025</text>
<line x1="647" x2="647" y1="503" y2="509" stroke="#000" stroke-width="1.8"/>
<line x1="682" x2="682" y1="503" y2="509" stroke="#000" stroke-width="1.8"/>
<line x1="717" x2="717" y1="503" y2="509" stroke="#000" stroke-width="1.8"/>
<line x1="751" x2="751" y1="503" y2="509" stroke="#000" stroke-width="1.8"/>
<line x1="786" x2="786" y1="503" y2="509" stroke="#000" stroke-width="1.8"/>
<line x1="820" x2="820" y1="503" y2="513" stroke="#000" stroke-width="2.2"/>
<text x="820.5" y="541.6" font-size="25" text-anchor="middle">12/2025</text>
<line x1="855" x2="855" y1="503" y2="509" stroke="#000" stroke-width="1.8"/>
<line x1="890" x2="890" y1="503" y2="509" stroke="#000" stroke-width="1.8"/>
<line x1="922" x2="922" y1="503" y2="509" stroke="#000" stroke-width="1.8"/>
<line x1="957" x2="957" y1="503" y2="509" stroke="#000" stroke-width="1.8"/>
<text x="555.6" y="576.4" font-size="25" text-anchor="middle">Month/Year</text>
<text transform="translate(37.4,314.4) rotate(-90)" font-size="25" text-anchor="middle">Obs/Exp Observations (%)</text>
<rect x="36.7" y="598.8" width="949.5" height="79.5" rx="5.5" fill="#fff" stroke="#cccccc" stroke-width="2.8"/>
<circle cx="58.6" cy="618.3" r="4.25" fill="#ffa6a6"/><text x="72.2" y="625.6" font-size="25">GLO 1f</text>
<circle cx="58.6" cy="654.5" r="4.25" fill="#b30000"/><text x="72.2" y="662.6" font-size="25">GLO 2+f</text>
<line x1="220.7" x2="245.3" y1="618.5" y2="618.5" stroke="#c48fd0" stroke-width="0.7"/><circle cx="233.2" cy="618.5" r="4.25" fill="#c18dcf"/><text x="247.9" y="625.6" font-size="25">obs ele</text>
<line x1="380" x2="405.6" y1="618.5" y2="618.5" stroke="#000" stroke-width="2.8" stroke-dasharray="2.8 4.58"/><circle cx="392.7" cy="618.5" r="2.4" fill="#000"/><text x="406" y="625.6" font-size="25">log ele</text>
<circle cx="545.5" cy="618.3" r="4.25" fill="#8c87c9"/><text x="560.1" y="625.6" font-size="25">RINEX2</text>
<circle cx="707.7" cy="618.3" r="4.25" fill="#660066"/><text x="721.9" y="625.6" font-size="25">RINEX3</text>
<circle cx="868.5" cy="618.4" r="4.25" fill="#1f0a29"/><text x="883" y="625.6" font-size="25">RINEX4</text>
<text x="35.4" y="709.6" font-size="19.44" font-style="italic">Tue Mar 24 12:57:14 2026</text>
<text x="969.2" y="709.6" font-size="19.44" font-style="italic" text-anchor="end">©GNSS@ROB</text>
</svg></body></html>
